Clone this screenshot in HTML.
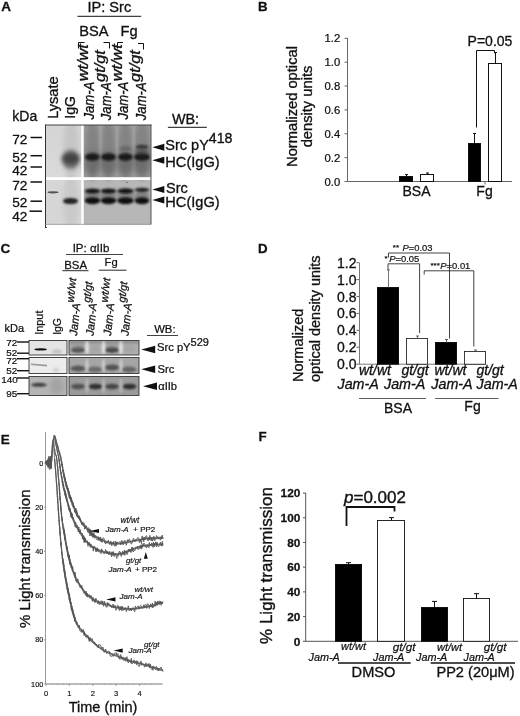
<!DOCTYPE html>
<html><head><meta charset="utf-8"><title>Figure</title>
<style>
html,body{margin:0;padding:0;background:#fff;}
svg{display:block;font-family:"Liberation Sans",sans-serif;fill:#111;}
text{stroke:#111;stroke-width:0.022em;}
.b{font-weight:bold}
.i{font-style:italic}
.ln{stroke:#111;fill:none}
</style></head><body>
<svg width="520" height="716" viewBox="0 0 520 716">
<defs>
<filter id="b1" x="-50%" y="-100%" width="200%" height="300%"><feGaussianBlur stdDeviation="1.1"/></filter>
<filter id="b2" x="-50%" y="-100%" width="200%" height="300%"><feGaussianBlur stdDeviation="2.2"/></filter>
<filter id="b3" x="-50%" y="-100%" width="200%" height="300%"><feGaussianBlur stdDeviation="0.7"/></filter>
<filter id="b4" x="-50%" y="-100%" width="200%" height="300%"><feGaussianBlur stdDeviation="3.5"/></filter>
<linearGradient id="gA1" x1="0" y1="0" x2="0" y2="1"><stop offset="0" stop-color="#d4d4d4"/><stop offset="1" stop-color="#dadada"/></linearGradient>
</defs>
<rect width="520" height="716" fill="#fff"/>

<g id="panelA">
<text x="1.2" y="11.3" font-size="13.5" text-anchor="start" class="b">A</text>
<text x="109.3" y="12.3" font-size="14.6" text-anchor="middle">IP: Src</text>
<line x1="77.5" y1="16.3" x2="141.2" y2="16.3" stroke="#111" stroke-width="1"/>
<text x="79.3" y="35.8" font-size="14.6" text-anchor="start">BSA</text>
<text x="120.5" y="35.8" font-size="14.6" text-anchor="start">Fg</text>
<path class="ln" d="M78.5,48.5 V42.5 H84.5 M103.5,42.5 H109.5 V48.5" stroke-width="1"/>
<path class="ln" d="M117.5,48.5 V42.5 H123 M138,43.5 H143.5 V49.5" stroke-width="1"/>
<text transform="translate(57.5,118.8) rotate(-90)" font-size="14.6" text-anchor="start">Lysate</text>
<text transform="translate(75.2,118.8) rotate(-90)" font-size="14.2" text-anchor="start">IgG</text>
<text transform="translate(94.2,119.6) rotate(-90) scale(0.905,1)" font-size="14.5" class="i">Jam-A</text>
<text transform="translate(87.7,81.3) rotate(-90) scale(1.15,1)" font-size="14.2" class="i">wt/wt</text>
<text transform="translate(111,120.2) rotate(-90) scale(0.905,1)" font-size="14.5" class="i">Jam-A</text>
<text transform="translate(104.5,81.9) rotate(-90) scale(1.15,1)" font-size="14.2" class="i">gt/gt</text>
<text transform="translate(128,119.6) rotate(-90) scale(0.905,1)" font-size="14.5" class="i">Jam-A</text>
<text transform="translate(121.5,81.3) rotate(-90) scale(1.15,1)" font-size="14.2" class="i">wt/wt</text>
<text transform="translate(146,120.2) rotate(-90) scale(0.905,1)" font-size="14.5" class="i">Jam-A</text>
<text transform="translate(139.5,81.9) rotate(-90) scale(1.15,1)" font-size="14.2" class="i">gt/gt</text>
<text x="12.3" y="121.3" font-size="14" text-anchor="start">kDa</text>
<text x="12.3" y="144.4" font-size="13.6" text-anchor="start">72</text>
<line x1="30.5" y1="137.5" x2="42" y2="137.5" stroke="#111" stroke-width="1.5"/>
<text x="12.3" y="161.9" font-size="13.6" text-anchor="start">52</text>
<line x1="30.5" y1="155.7" x2="42" y2="155.7" stroke="#111" stroke-width="1.5"/>
<text x="12.3" y="175.4" font-size="13.6" text-anchor="start">42</text>
<line x1="30.5" y1="167" x2="42" y2="167" stroke="#111" stroke-width="1.5"/>
<text x="12.3" y="189.9" font-size="13.6" text-anchor="start">72</text>
<line x1="30.5" y1="182" x2="42" y2="182" stroke="#111" stroke-width="1.5"/>
<text x="12.3" y="207.4" font-size="13.6" text-anchor="start">52</text>
<line x1="30.5" y1="201.2" x2="42" y2="201.2" stroke="#111" stroke-width="1.5"/>
<text x="12.3" y="221.1" font-size="13.6" text-anchor="start">42</text>
<line x1="29.5" y1="211.2" x2="42" y2="211.2" stroke="#111" stroke-width="1.5"/>
<clipPath id="clA"><rect x="45" y="125" width="106" height="99.5"/></clipPath>
<g clip-path="url(#clA)">
<rect x="45" y="125" width="106" height="100" fill="#a4a4a4"/>
<rect x="45" y="125" width="37" height="53" fill="url(#gA1)"/>
<rect x="45" y="180" width="37" height="45" fill="#d6d6d6"/>
<ellipse cx="71" cy="203" rx="8" ry="26" fill="#c6c6c6" filter="url(#b2)" opacity="0.8"/>
<rect x="83" y="125" width="68" height="53" fill="#9a9a9a"/>
<rect x="83" y="180" width="68" height="45" fill="#b7b7b7"/>
<ellipse cx="92.5" cy="150" rx="7" ry="30" fill="#7e7e7e" filter="url(#b2)" opacity="0.8"/>
<ellipse cx="108.5" cy="150" rx="7" ry="30" fill="#7e7e7e" filter="url(#b2)" opacity="0.8"/>
<ellipse cx="125.5" cy="150" rx="7" ry="30" fill="#7e7e7e" filter="url(#b2)" opacity="0.8"/>
<ellipse cx="142" cy="150" rx="7.5" ry="30" fill="#7e7e7e" filter="url(#b2)" opacity="0.8"/>
<ellipse cx="100.5" cy="150" rx="0.9" ry="30" fill="#b0b0b0" filter="url(#b1)" opacity="0.75"/>
<ellipse cx="117" cy="150" rx="0.9" ry="30" fill="#b0b0b0" filter="url(#b1)" opacity="0.75"/>
<ellipse cx="133.7" cy="150" rx="0.9" ry="30" fill="#b0b0b0" filter="url(#b1)" opacity="0.75"/>
<ellipse cx="71" cy="150" rx="8" ry="32" fill="#c2c2c2" filter="url(#b2)" opacity="0.8"/>
<ellipse cx="70.8" cy="159.5" rx="8.5" ry="9.5" fill="#585858" filter="url(#b2)" opacity="0.85"/>
<ellipse cx="70.8" cy="158.5" rx="8.5" ry="5" fill="#383838" filter="url(#b2)" opacity="0.8"/>
<ellipse cx="92.5" cy="163" rx="8.5" ry="12" fill="#5a5a5a" filter="url(#b4)" opacity="0.55"/>
<ellipse cx="92.5" cy="157" rx="7.5" ry="3.8" fill="#151515" filter="url(#b1)" opacity="0.95"/>
<ellipse cx="108.5" cy="163" rx="8.5" ry="12" fill="#5a5a5a" filter="url(#b4)" opacity="0.55"/>
<ellipse cx="108.5" cy="157" rx="7.5" ry="3.8" fill="#151515" filter="url(#b1)" opacity="0.95"/>
<ellipse cx="125.5" cy="163" rx="8.5" ry="12" fill="#5a5a5a" filter="url(#b4)" opacity="0.55"/>
<ellipse cx="125.5" cy="157" rx="7.5" ry="3.8" fill="#151515" filter="url(#b1)" opacity="0.95"/>
<ellipse cx="142" cy="163" rx="9" ry="12" fill="#5a5a5a" filter="url(#b4)" opacity="0.55"/>
<ellipse cx="142" cy="157" rx="8" ry="3.8" fill="#151515" filter="url(#b1)" opacity="0.95"/>
<ellipse cx="125.5" cy="148.5" rx="6" ry="2.5" fill="#555" filter="url(#b1)" opacity="0.55"/>
<ellipse cx="142" cy="146.8" rx="6.5" ry="2" fill="#2a2a2a" filter="url(#b1)" opacity="0.85"/>
<ellipse cx="142" cy="152" rx="7" ry="3" fill="#333" filter="url(#b2)" opacity="0.6"/>
<ellipse cx="53" cy="192.3" rx="5.5" ry="1.1" fill="#444" filter="url(#b3)" opacity="0.9"/>
<ellipse cx="70.5" cy="201" rx="7.5" ry="3.1" fill="#1a1a1a" filter="url(#b1)" opacity="0.95"/>
<ellipse cx="92.5" cy="196" rx="7.7" ry="7" fill="#444" filter="url(#b2)" opacity="0.5"/>
<ellipse cx="92.5" cy="191" rx="7.7" ry="2.3" fill="#0d0d0d" filter="url(#b1)" opacity="0.95"/>
<ellipse cx="92.5" cy="200.7" rx="7.7" ry="3.3" fill="#080808" filter="url(#b1)" opacity="1"/>
<ellipse cx="108.5" cy="196" rx="7.7" ry="7" fill="#444" filter="url(#b2)" opacity="0.5"/>
<ellipse cx="108.5" cy="191" rx="7.7" ry="2.3" fill="#0d0d0d" filter="url(#b1)" opacity="0.95"/>
<ellipse cx="108.5" cy="200.7" rx="7.7" ry="3.3" fill="#080808" filter="url(#b1)" opacity="1"/>
<ellipse cx="125.5" cy="196" rx="8.2" ry="7" fill="#444" filter="url(#b2)" opacity="0.5"/>
<ellipse cx="125.5" cy="191" rx="8.2" ry="2.4" fill="#0d0d0d" filter="url(#b1)" opacity="0.95"/>
<ellipse cx="125.5" cy="200.7" rx="8.2" ry="3.3" fill="#080808" filter="url(#b1)" opacity="1"/>
<ellipse cx="142" cy="196" rx="7.2" ry="7" fill="#444" filter="url(#b2)" opacity="0.5"/>
<ellipse cx="142" cy="189.8" rx="7.2" ry="1.8" fill="#0d0d0d" filter="url(#b1)" opacity="0.95"/>
<ellipse cx="142" cy="200.7" rx="7.2" ry="3.3" fill="#080808" filter="url(#b1)" opacity="1"/>
<circle cx="127" cy="182.5" r="0.6" fill="#333"/>
<rect x="81.3" y="125" width="2.4" height="100" fill="#fff"/>
<rect x="45" y="177.2" width="106" height="2.8" fill="#fff"/>
</g>
<line x1="45.5" y1="124.5" x2="45.5" y2="227.5" stroke="#333" stroke-width="1"/>
<line x1="45" y1="125" x2="151.5" y2="125" stroke="#444" stroke-width="1"/>
<line x1="151" y1="124.5" x2="151" y2="224.5" stroke="#555" stroke-width="1"/>
<line x1="45" y1="224.3" x2="151" y2="224.3" stroke="#888" stroke-width="0.6"/>
<line x1="45" y1="227.5" x2="47" y2="227.5" stroke="#333" stroke-width="0.8"/>
<text x="171.9" y="123.8" font-size="14.4" text-anchor="start">WB:</text>
<line x1="167.9" y1="127.3" x2="206.8" y2="127.3" stroke="#111" stroke-width="1"/>
<polygon points="152.3,147.2 164.3,143.7 164.3,150.7" fill="#111"/>
<text x="165.3" y="150.2" font-size="14.5">Src pY<tspan font-size="14.2" dy="-7">418</tspan></text>
<polygon points="152.3,160.2 164.3,156.7 164.3,163.7" fill="#111"/>
<text x="165.3" y="167.1" font-size="14.6" text-anchor="start">HC(IgG)</text>
<polygon points="152.3,189.6 164.3,186.1 164.3,193.1" fill="#111"/>
<text x="166" y="193.4" font-size="14.5" text-anchor="start">Src</text>
<polygon points="152.3,200 164.3,196.5 164.3,203.5" fill="#111"/>
<text x="165.3" y="206.9" font-size="14.6" text-anchor="start">HC(IgG)</text>
</g>
<g id="panelB">
<text x="258" y="11.2" font-size="13.3" text-anchor="start" class="b">B</text>
<text transform="translate(297,106.5) rotate(-90)" font-size="14.7" text-anchor="middle">Normalized optical</text>
<text transform="translate(312,106.5) rotate(-90)" font-size="14.7" text-anchor="middle">density units</text>
<line x1="347.5" y1="38" x2="347.5" y2="181.5" stroke="#666" stroke-width="1"/>
<line x1="347.5" y1="181.5" x2="512" y2="181.5" stroke="#666" stroke-width="1"/>
<line x1="344.5" y1="181.5" x2="347.5" y2="181.5" stroke="#666" stroke-width="1"/>
<text x="340.3" y="185.5" font-size="11.3" text-anchor="end">0.0</text>
<line x1="344.5" y1="157.64" x2="347.5" y2="157.64" stroke="#666" stroke-width="1"/>
<text x="340.3" y="161.64" font-size="11.3" text-anchor="end">0.2</text>
<line x1="344.5" y1="133.78" x2="347.5" y2="133.78" stroke="#666" stroke-width="1"/>
<text x="340.3" y="137.78" font-size="11.3" text-anchor="end">0.4</text>
<line x1="344.5" y1="109.91999999999999" x2="347.5" y2="109.91999999999999" stroke="#666" stroke-width="1"/>
<text x="340.3" y="113.91999999999999" font-size="11.3" text-anchor="end">0.6</text>
<line x1="344.5" y1="86.06" x2="347.5" y2="86.06" stroke="#666" stroke-width="1"/>
<text x="340.3" y="90.06" font-size="11.3" text-anchor="end">0.8</text>
<line x1="344.5" y1="62.2" x2="347.5" y2="62.2" stroke="#666" stroke-width="1"/>
<text x="340.3" y="66.2" font-size="11.3" text-anchor="end">1.0</text>
<line x1="344.5" y1="38.339999999999975" x2="347.5" y2="38.339999999999975" stroke="#666" stroke-width="1"/>
<text x="340.3" y="42.339999999999975" font-size="11.3" text-anchor="end">1.2</text>
<rect x="399.5" y="176.5" width="13.0" height="5.0" fill="#000" stroke="#111" stroke-width="1"/>
<line x1="406.5" y1="176.5" x2="406.5" y2="174.6" stroke="#111" stroke-width="1"/>
<line x1="405.0" y1="174.6" x2="408.0" y2="174.6" stroke="#111" stroke-width="1"/>
<rect x="420.5" y="174.5" width="13.0" height="7.0" fill="#fff" stroke="#111" stroke-width="1"/>
<line x1="427.5" y1="174.5" x2="427.5" y2="173" stroke="#111" stroke-width="1"/>
<line x1="426.0" y1="173" x2="429.0" y2="173" stroke="#111" stroke-width="1"/>
<rect x="468.5" y="143.5" width="12.0" height="38.0" fill="#000" stroke="#111" stroke-width="1"/>
<line x1="474.5" y1="143.5" x2="474.5" y2="133.5" stroke="#111" stroke-width="1"/>
<line x1="473.0" y1="133.5" x2="476.0" y2="133.5" stroke="#111" stroke-width="1"/>
<rect x="488.5" y="63.5" width="13.0" height="118.0" fill="#fff" stroke="#111" stroke-width="1"/>
<line x1="495.5" y1="63.5" x2="495.5" y2="52.5" stroke="#111" stroke-width="1"/>
<line x1="494.0" y1="52.5" x2="497.0" y2="52.5" stroke="#111" stroke-width="1"/>
<line x1="485" y1="181.5" x2="485" y2="184.5" stroke="#666" stroke-width="1"/>
<text x="416.5" y="196" font-size="14" text-anchor="middle">BSA</text>
<text x="484.5" y="196" font-size="14" text-anchor="middle">Fg</text>
<text x="490" y="46" font-size="14" text-anchor="middle">P=0.05</text>
<path class="ln" d="M476.5,127.5 V50.5 H494.5 V53.2" stroke-width="1"/>
</g>
<g id="panelC">
<text x="0.4" y="253.2" font-size="13.5" text-anchor="start" class="b">C</text>
<text x="91" y="251.5" font-size="11.5" text-anchor="middle">IP: αIIb</text>
<line x1="66" y1="254.5" x2="123" y2="254.5" stroke="#111" stroke-width="0.8"/>
<text x="64.2" y="269.3" font-size="11.4" text-anchor="start">BSA</text>
<text x="104.6" y="266.3" font-size="11.2" text-anchor="start">Fg</text>
<line x1="62.4" y1="270.7" x2="88.5" y2="270.7" stroke="#111" stroke-width="0.9"/>
<line x1="98.8" y1="270.2" x2="126.5" y2="270.2" stroke="#111" stroke-width="0.9"/>
<text transform="translate(42.5,334.8) rotate(-90)" font-size="10.9" text-anchor="start">Input</text>
<text transform="translate(60.8,334.8) rotate(-90)" font-size="10.4" text-anchor="start">IgG</text>
<text transform="translate(77,336) rotate(-84)" font-size="11.3" class="i">Jam-A<tspan font-size="10.8" dy="-6.8">wt/wt</tspan></text>
<text transform="translate(93.5,336) rotate(-84)" font-size="11.3" class="i">Jam-A<tspan font-size="10.8" dy="-6.8">gt/gt</tspan></text>
<text transform="translate(111,336) rotate(-84)" font-size="11.3" class="i">Jam-A<tspan font-size="10.8" dy="-6.8">wt/wt</tspan></text>
<text transform="translate(128.5,336) rotate(-84)" font-size="11.3" class="i">Jam-A<tspan font-size="10.8" dy="-6.8">gt/gt</tspan></text>
<text x="4.5" y="332" font-size="11" text-anchor="start">kDa</text>
<text x="6.2" y="345.6" font-size="9.9" text-anchor="start">72</text>
<line x1="17" y1="342" x2="29" y2="342" stroke="#111" stroke-width="1.4"/>
<text x="6.2" y="356.1" font-size="9.9" text-anchor="start">52</text>
<line x1="17" y1="353.2" x2="29" y2="353.2" stroke="#111" stroke-width="1.4"/>
<text x="6.2" y="363.6" font-size="9.9" text-anchor="start">72</text>
<line x1="17" y1="358.7" x2="29" y2="358.7" stroke="#111" stroke-width="1.4"/>
<text x="6.2" y="374.3" font-size="9.9" text-anchor="start">52</text>
<line x1="17" y1="370.7" x2="29" y2="370.7" stroke="#111" stroke-width="1.4"/>
<text x="1.2" y="382.8" font-size="9.9" text-anchor="start">140</text>
<line x1="17" y1="378" x2="29" y2="378" stroke="#111" stroke-width="1.4"/>
<text x="6.2" y="397.3" font-size="9.9" text-anchor="start">95</text>
<line x1="17" y1="393.7" x2="29" y2="393.7" stroke="#111" stroke-width="1.4"/>
<clipPath id="clC"><rect x="29" y="340.5" width="38" height="14.500"/><rect x="69" y="340.5" width="70" height="14.500"/><rect x="29" y="357.5" width="38" height="16"/><rect x="69" y="357.5" width="70" height="16"/><rect x="29" y="376.5" width="38" height="19"/><rect x="69" y="376.5" width="70" height="19"/></clipPath>
<g clip-path="url(#clC)">
<rect x="29" y="340.5" width="38" height="14.5" fill="#e4e4e4"/>
<rect x="69" y="340.5" width="70" height="14.5" fill="#b0b0b0"/>
<rect x="29" y="357.5" width="38" height="16.0" fill="#ececec"/>
<rect x="69" y="357.5" width="70" height="16.0" fill="#a6a6a6"/>
<rect x="29" y="376.5" width="38" height="19.0" fill="#b4b4b4"/>
<rect x="69" y="376.5" width="70" height="19.0" fill="#9a9a9a"/>
<rect x="69" y="340.5" width="70" height="3" fill="#808080" filter="url(#b1)" opacity="0.7"/>
<ellipse cx="40.6" cy="349.4" rx="6.3" ry="1.2" fill="#111" filter="url(#b3)" opacity="1"/>
<ellipse cx="57" cy="351.5" rx="5" ry="2" fill="#aaa" filter="url(#b1)" opacity="0.6"/>
<ellipse cx="78" cy="350" rx="7" ry="2.8" fill="#383838" filter="url(#b1)" opacity="0.8"/>
<ellipse cx="78" cy="347" rx="7" ry="3" fill="#777" filter="url(#b2)" opacity="0.5"/>
<ellipse cx="112" cy="350" rx="7" ry="2.8" fill="#383838" filter="url(#b1)" opacity="0.95"/>
<ellipse cx="112" cy="347" rx="7" ry="3" fill="#777" filter="url(#b2)" opacity="0.5"/>
<ellipse cx="95" cy="349" rx="6" ry="4" fill="#999" filter="url(#b2)" opacity="0.5"/>
<ellipse cx="129" cy="349" rx="6" ry="4" fill="#999" filter="url(#b2)" opacity="0.5"/>
<ellipse cx="87" cy="347.5" rx="1.8" ry="7" fill="#ececec" filter="url(#b1)" opacity="0.85"/>
<ellipse cx="103.5" cy="347.5" rx="1.8" ry="7" fill="#ececec" filter="url(#b1)" opacity="0.85"/>
<ellipse cx="121" cy="347.5" rx="1.8" ry="7" fill="#ececec" filter="url(#b1)" opacity="0.85"/>
<path d="M31,364.2 L47,365.6" stroke="#9a9a9a" stroke-width="1.6" filter="url(#b3)"/>
<ellipse cx="56" cy="370" rx="3" ry="2" fill="#bbb" filter="url(#b1)" opacity="0.6"/>
<ellipse cx="78" cy="368.5" rx="7.5" ry="3" fill="#444" filter="url(#b1)" opacity="0.8"/>
<ellipse cx="95" cy="369.5" rx="7.5" ry="3" fill="#444" filter="url(#b1)" opacity="0.6"/>
<ellipse cx="112" cy="367.5" rx="7.5" ry="3" fill="#444" filter="url(#b1)" opacity="0.85"/>
<ellipse cx="129" cy="369.5" rx="7.5" ry="3" fill="#444" filter="url(#b1)" opacity="0.65"/>
<ellipse cx="87" cy="365.5" rx="1.5" ry="7" fill="#e0e0e0" filter="url(#b1)" opacity="0.7"/>
<ellipse cx="103.5" cy="365.5" rx="1.5" ry="7" fill="#e0e0e0" filter="url(#b1)" opacity="0.7"/>
<ellipse cx="121" cy="365.5" rx="1.5" ry="7" fill="#e0e0e0" filter="url(#b1)" opacity="0.7"/>
<ellipse cx="39" cy="384.8" rx="8" ry="2" fill="#333" filter="url(#b1)" opacity="0.9"/>
<ellipse cx="57" cy="386" rx="7" ry="8" fill="#999" filter="url(#b2)" opacity="0.6"/>
<ellipse cx="78" cy="386.6" rx="7" ry="2.8" fill="#2c2c2c" filter="url(#b1)" opacity="0.65"/>
<ellipse cx="95.5" cy="386.6" rx="7" ry="2.8" fill="#2c2c2c" filter="url(#b1)" opacity="0.95"/>
<ellipse cx="112" cy="386.6" rx="7" ry="2.8" fill="#2c2c2c" filter="url(#b1)" opacity="0.75"/>
<ellipse cx="129.5" cy="386.6" rx="7" ry="2.8" fill="#2c2c2c" filter="url(#b1)" opacity="0.95"/>
<ellipse cx="87" cy="386" rx="1.4" ry="8" fill="#d0d0d0" filter="url(#b1)" opacity="0.6"/>
<ellipse cx="103.5" cy="386" rx="1.4" ry="8" fill="#d0d0d0" filter="url(#b1)" opacity="0.6"/>
<ellipse cx="121" cy="386" rx="1.4" ry="8" fill="#d0d0d0" filter="url(#b1)" opacity="0.6"/>
</g>
<rect x="29" y="340.5" width="38" height="14.5" fill="none" stroke="#333" stroke-width="0.9"/>
<rect x="69" y="340.5" width="70" height="14.5" fill="none" stroke="#333" stroke-width="0.9"/>
<rect x="29" y="357.5" width="38" height="16.0" fill="none" stroke="#333" stroke-width="0.9"/>
<rect x="69" y="357.5" width="70" height="16.0" fill="none" stroke="#333" stroke-width="0.9"/>
<rect x="29" y="376.5" width="38" height="19.0" fill="none" stroke="#333" stroke-width="0.9"/>
<rect x="69" y="376.5" width="70" height="19.0" fill="none" stroke="#333" stroke-width="0.9"/>
<text x="154.2" y="332.5" font-size="11.3" text-anchor="start">WB:</text>
<line x1="147" y1="335.5" x2="178" y2="335.5" stroke="#111" stroke-width="0.8"/>
<polygon points="141.2,349.5 155.2,345.75 155.2,353.25" fill="#111"/>
<text x="157" y="351.2" font-size="11.2">Src pY<tspan font-size="11" dy="-5.7">529</tspan></text>
<polygon points="141.2,369.2 155.2,365.45 155.2,372.95" fill="#111"/>
<text x="157.5" y="373.2" font-size="11.2" text-anchor="start">Src</text>
<polygon points="143,386.2 157,382.45 157,389.95" fill="#111"/>
<text x="158.2" y="390" font-size="11.2" text-anchor="start">αIIb</text>
</g>
<g id="panelD">
<text x="258" y="252.9" font-size="13.3" text-anchor="start" class="b">D</text>
<text transform="translate(303,382) rotate(-90)" font-size="14.5" text-anchor="start">Normalized</text>
<text transform="translate(320,382) rotate(-90)" font-size="14.5" text-anchor="start">optical density units</text>
<line x1="359.5" y1="262.5" x2="359.5" y2="364.2" stroke="#777" stroke-width="1"/>
<line x1="359" y1="364.2" x2="486" y2="364.2" stroke="#777" stroke-width="1"/>
<line x1="356.5" y1="364.2" x2="359" y2="364.2" stroke="#666" stroke-width="1"/>
<text x="356.5" y="369.2" font-size="14" text-anchor="end">0.0</text>
<line x1="356.5" y1="347.28" x2="359" y2="347.28" stroke="#666" stroke-width="1"/>
<text x="356.5" y="352.28" font-size="14" text-anchor="end">0.2</text>
<line x1="356.5" y1="330.36" x2="359" y2="330.36" stroke="#666" stroke-width="1"/>
<text x="356.5" y="335.36" font-size="14" text-anchor="end">0.4</text>
<line x1="356.5" y1="313.44" x2="359" y2="313.44" stroke="#666" stroke-width="1"/>
<text x="356.5" y="318.44" font-size="14" text-anchor="end">0.6</text>
<line x1="356.5" y1="296.52" x2="359" y2="296.52" stroke="#666" stroke-width="1"/>
<text x="356.5" y="301.52" font-size="14" text-anchor="end">0.8</text>
<line x1="356.5" y1="279.6" x2="359" y2="279.6" stroke="#666" stroke-width="1"/>
<text x="356.5" y="284.6" font-size="14" text-anchor="end">1.0</text>
<line x1="356.5" y1="262.67999999999995" x2="359" y2="262.67999999999995" stroke="#666" stroke-width="1"/>
<text x="356.5" y="267.67999999999995" font-size="14" text-anchor="end">1.2</text>
<rect x="377.5" y="287.5" width="21.0" height="76.69999999999999" fill="#000" stroke="#111" stroke-width="1"/>
<line x1="388.5" y1="287.5" x2="388.5" y2="270" stroke="#666" stroke-width="0.9"/>
<line x1="387.0" y1="270" x2="390.0" y2="270" stroke="#666" stroke-width="0.9"/>
<rect x="406.5" y="338.5" width="21.0" height="25.69999999999999" fill="#fff" stroke="#111" stroke-width="0.8"/>
<line x1="417.5" y1="338.5" x2="417.5" y2="336" stroke="#555" stroke-width="0.9"/>
<line x1="416.0" y1="336" x2="419.0" y2="336" stroke="#555" stroke-width="0.9"/>
<rect x="435.5" y="342.5" width="21.0" height="21.69999999999999" fill="#000" stroke="#111" stroke-width="1"/>
<line x1="446.5" y1="342.5" x2="446.5" y2="339.5" stroke="#555" stroke-width="0.9"/>
<line x1="445.0" y1="339.5" x2="448.0" y2="339.5" stroke="#555" stroke-width="0.9"/>
<rect x="464.5" y="351.5" width="21.0" height="12.699999999999989" fill="#fff" stroke="#111" stroke-width="0.8"/>
<line x1="475.5" y1="351.5" x2="475.5" y2="350" stroke="#555" stroke-width="0.9"/>
<line x1="474.0" y1="350" x2="477.0" y2="350" stroke="#555" stroke-width="0.9"/>
<text x="392.8" y="250.7" font-size="9.4"><tspan font-size="8" dy="-0.5">**</tspan><tspan dy="0.5" dx="3.5" class="i">P</tspan>=0.03</text>
<path class="ln" d="M388.5,257.5 V253 H449.5 V338.5" stroke-width="0.8" stroke="#333"/>
<text x="384.6" y="261.5" font-size="9.4"><tspan font-size="8" dy="-0.5">*</tspan><tspan dy="0.5" dx="1.5" class="i">P</tspan>=0.05</text>
<path class="ln" d="M388,270 V263.8 H419.6 V333" stroke-width="0.8" stroke="#333"/>
<text x="430.5" y="268.5" font-size="9.4"><tspan font-size="8" dy="-0.5">***</tspan><tspan dy="0.5" dx="0.5" class="i">P</tspan>=0.01</text>
<path class="ln" d="M424.2,274.5 V270.8 H473.8 V346.5" stroke-width="0.8" stroke="#333"/>
<text x="359" y="375" font-size="14" text-anchor="start" class="i">wt/wt</text>
<text x="401.5" y="375" font-size="14" text-anchor="start" class="i">gt/gt</text>
<text x="434.5" y="375" font-size="14" text-anchor="start" class="i">wt/wt</text>
<text x="476.5" y="375" font-size="14" text-anchor="start" class="i">gt/gt</text>
<text x="337.5" y="389" font-size="14.3" text-anchor="start" class="i">Jam-A</text>
<text x="384" y="389" font-size="14.3" text-anchor="start" class="i">Jam-A</text>
<text x="431.3" y="389" font-size="14.3" text-anchor="start" class="i">Jam-A</text>
<text x="476.6" y="389" font-size="14.3" text-anchor="start" class="i">Jam-A</text>
<line x1="359" y1="398.5" x2="426" y2="398.5" stroke="#333" stroke-width="0.8"/>
<line x1="435" y1="398.5" x2="498.5" y2="398.5" stroke="#333" stroke-width="0.8"/>
<text x="398" y="413" font-size="14" text-anchor="middle">BSA</text>
<text x="472.5" y="410.5" font-size="14" text-anchor="middle">Fg</text>
</g>
<g id="panelE">
<text x="0.8" y="443.6" font-size="13.5" text-anchor="start" class="b">E</text>
<text transform="translate(30.3,558.7) rotate(-90)" font-size="15" text-anchor="middle">% Light transmission</text>
<line x1="45.5" y1="432" x2="45.5" y2="684" stroke="#999" stroke-width="1"/>
<line x1="46" y1="684" x2="162.5" y2="684" stroke="#666" stroke-width="0.9"/>
<line x1="44" y1="463.0" x2="46" y2="463.0" stroke="#888" stroke-width="0.7"/>
<text x="43.3" y="465.6" font-size="7.3" text-anchor="end">0</text>
<line x1="44" y1="507.2" x2="46" y2="507.2" stroke="#888" stroke-width="0.7"/>
<text x="43.3" y="509.8" font-size="7.3" text-anchor="end">20</text>
<line x1="44" y1="551.4" x2="46" y2="551.4" stroke="#888" stroke-width="0.7"/>
<text x="43.3" y="554.0" font-size="7.3" text-anchor="end">40</text>
<line x1="44" y1="595.6" x2="46" y2="595.6" stroke="#888" stroke-width="0.7"/>
<text x="43.3" y="598.2" font-size="7.3" text-anchor="end">60</text>
<line x1="44" y1="639.8" x2="46" y2="639.8" stroke="#888" stroke-width="0.7"/>
<text x="43.3" y="642.4" font-size="7.3" text-anchor="end">80</text>
<line x1="44" y1="684.0" x2="46" y2="684.0" stroke="#888" stroke-width="0.7"/>
<text x="43.3" y="686.6" font-size="7.3" text-anchor="end">100</text>
<line x1="46.0" y1="684" x2="46.0" y2="686" stroke="#888" stroke-width="0.7"/>
<text x="46.0" y="695.5" font-size="7.5" text-anchor="middle">0</text>
<line x1="69.4" y1="684" x2="69.4" y2="686" stroke="#888" stroke-width="0.7"/>
<text x="69.4" y="695.5" font-size="7.5" text-anchor="middle">1</text>
<line x1="92.8" y1="684" x2="92.8" y2="686" stroke="#888" stroke-width="0.7"/>
<text x="92.8" y="695.5" font-size="7.5" text-anchor="middle">2</text>
<line x1="116.19999999999999" y1="684" x2="116.19999999999999" y2="686" stroke="#888" stroke-width="0.7"/>
<text x="116.19999999999999" y="695.5" font-size="7.5" text-anchor="middle">3</text>
<line x1="139.6" y1="684" x2="139.6" y2="686" stroke="#888" stroke-width="0.7"/>
<text x="139.6" y="695.5" font-size="7.5" text-anchor="middle">4</text>
<line x1="46.0" y1="684" x2="46.0" y2="685.2" stroke="#999" stroke-width="0.5"/>
<line x1="51.85" y1="684" x2="51.85" y2="685.2" stroke="#999" stroke-width="0.5"/>
<line x1="57.7" y1="684" x2="57.7" y2="685.2" stroke="#999" stroke-width="0.5"/>
<line x1="63.55" y1="684" x2="63.55" y2="685.2" stroke="#999" stroke-width="0.5"/>
<line x1="69.4" y1="684" x2="69.4" y2="685.2" stroke="#999" stroke-width="0.5"/>
<line x1="75.25" y1="684" x2="75.25" y2="685.2" stroke="#999" stroke-width="0.5"/>
<line x1="81.1" y1="684" x2="81.1" y2="685.2" stroke="#999" stroke-width="0.5"/>
<line x1="86.94999999999999" y1="684" x2="86.94999999999999" y2="685.2" stroke="#999" stroke-width="0.5"/>
<line x1="92.8" y1="684" x2="92.8" y2="685.2" stroke="#999" stroke-width="0.5"/>
<line x1="98.65" y1="684" x2="98.65" y2="685.2" stroke="#999" stroke-width="0.5"/>
<line x1="104.5" y1="684" x2="104.5" y2="685.2" stroke="#999" stroke-width="0.5"/>
<line x1="110.35" y1="684" x2="110.35" y2="685.2" stroke="#999" stroke-width="0.5"/>
<line x1="116.19999999999999" y1="684" x2="116.19999999999999" y2="685.2" stroke="#999" stroke-width="0.5"/>
<line x1="122.05" y1="684" x2="122.05" y2="685.2" stroke="#999" stroke-width="0.5"/>
<line x1="127.89999999999999" y1="684" x2="127.89999999999999" y2="685.2" stroke="#999" stroke-width="0.5"/>
<line x1="133.75" y1="684" x2="133.75" y2="685.2" stroke="#999" stroke-width="0.5"/>
<line x1="139.6" y1="684" x2="139.6" y2="685.2" stroke="#999" stroke-width="0.5"/>
<line x1="145.45" y1="684" x2="145.45" y2="685.2" stroke="#999" stroke-width="0.5"/>
<line x1="151.3" y1="684" x2="151.3" y2="685.2" stroke="#999" stroke-width="0.5"/>
<line x1="157.14999999999998" y1="684" x2="157.14999999999998" y2="685.2" stroke="#999" stroke-width="0.5"/>
<text x="103.1" y="711.5" font-size="14.5" text-anchor="middle">Time (min)</text>
<path d="M45.8,461.4 L45.9,463.8 L46.1,460.7 L46.2,463.9 L46.4,460.6 L46.5,464.7 L46.7,461.2 L46.8,465.2 L47.0,461.1 L47.1,465.4 L47.3,460.8 L47.4,464.7 L47.6,459.6 L47.8,467.1 L47.9,460.3 L48.0,465.5 L48.2,458.4 L48.3,468.3 L48.5,458.3 L48.6,466.6 L48.8,456.4 L48.9,465.5 L49.1,456.5 L49.2,466.7 L49.4,459.2 L49.5,466.2 L49.7,458.2 L49.8,469.7 L50.0,458.6 L50.1,468.9 L50.3,456.0 L50.4,468.0 L50.6,456.5 L50.8,466.4 L50.9,459.0 L51.0,467.2 L51.2,455.8 L51.3,468.3 L51.5,457.7 L51.6,469.1" fill="none" stroke="#555" stroke-width="0.7"/>
<path d="M54.6,458.7 L54.7,460.1 L54.8,461.5 L55.0,463.0 L55.1,464.5 L55.2,466.1 L55.3,467.7 L55.5,469.4 L55.6,471.0 L55.7,472.8 L55.9,474.5 L56.0,476.3 L56.2,478.2 L56.3,480.0 L56.4,481.9 L56.6,483.9 L56.7,485.9 L56.9,488.0 L57.0,490.1 L57.2,492.3 L57.3,494.5 L57.5,496.7 L57.5,497.8 L57.6,498.9 L57.7,500.1 L57.8,501.2 L57.8,502.3 L57.9,503.5 L58.0,504.6 L58.1,505.7 L58.1,506.9 L58.2,508.0 L58.4,510.2 L58.5,512.4 L58.7,514.6 L58.9,516.8 L59.0,519.0 L59.2,521.2 L59.3,523.4 L59.5,525.6 L59.7,527.9 L59.8,530.1 L60.0,532.3 L60.2,534.5 L60.4,536.7 L60.5,538.9 L60.7,541.0 L60.9,543.1 L61.1,545.2 L61.3,547.2 L61.5,549.2 L61.7,551.1 L61.9,553.1 L62.2,555.0 L62.4,556.9 L62.6,558.8 L62.9,560.6 L63.1,562.4" fill="none" stroke="#666" stroke-width="1.2" stroke-linejoin="round"/>
<path d="M63.1,562.4 L63.4,564.2 L63.7,566.0 L63.9,567.7 L64.2,569.4 L64.4,571.0 L64.7,572.7 L64.9,574.2 L65.2,575.7 L65.4,577.2 L65.6,578.6 L65.9,580.0 L66.1,581.2 L66.3,582.5 L66.5,583.7 L66.8,584.8 L67.0,585.9 L67.2,587.0 L67.4,588.1 L67.7,589.1 L67.9,590.2 L68.1,591.2 L68.3,592.2 L68.5,593.3 L68.8,594.3 L69.0,595.4 L69.2,596.5 L69.5,597.6 L69.7,598.6 L69.9,599.7 L70.1,600.8 L70.3,601.8 L70.6,602.9 L70.8,603.9 L71.0,604.9 L71.2,605.9 L71.5,606.9 L71.7,607.9 L72.0,608.9 L72.2,609.8 L72.4,610.8 L72.7,611.7 L73.0,612.6 L73.2,613.5 L73.5,614.4 L73.7,615.2 L74.0,616.1 L74.2,616.9 L74.5,617.7 L74.7,618.5 L75.0,619.3 L75.3,620.1 L75.6,620.8 L75.9,621.6 L76.2,622.3 L76.5,623.0 L76.8,623.7 L77.2,624.4 L77.6,625.1 L78.0,625.7 L78.4,626.3 L78.8,626.9 L79.2,627.5 L79.7,628.1 L80.1,628.6 L80.6,629.2 L81.0,629.7 L81.5,630.2 L82.0,630.8 L82.5,631.3 L83.0,631.8 L83.5,632.4 L84.0,632.9 L84.5,633.5 L85.0,634.1 L85.5,634.6 L86.1,635.2 L86.6,635.8 L87.1,636.4 L87.7,637.0 L88.2,637.5 L88.8,638.1 L89.3,638.7 L89.9,639.3 L90.5,639.8 L91.1,640.4 L91.7,641.0 L92.3,641.5 L92.9,642.1 L93.5,642.6 L94.1,643.1 L94.8,643.7 L95.4,644.2 L96.1,644.8 L96.8,645.3 L97.4,645.9 L98.1,646.4 L98.8,646.9 L99.5,647.5 L100.2,648.0 L100.9,648.5 L101.6,648.9 L102.3,649.4 L103.0,649.9 L103.7,650.3 L104.4,650.7 L105.1,651.1 L105.7,651.4 L106.4,651.8 L107.0,652.1 L107.7,652.4 L108.3,652.6 L109.0,652.9 L109.6,653.2 L110.3,653.4 L110.9,653.7 L111.6,653.9 L112.3,654.2 L113.0,654.4 L113.8,654.7 L114.5,655.0 L115.3,655.3 L116.1,655.6 L116.9,655.9 L117.8,656.3 L118.6,656.6 L119.5,656.9 L120.4,657.3 L121.3,657.6 L122.2,658.0 L123.1,658.3 L124.1,658.7 L125.0,659.0 L126.0,659.4 L127.0,659.7 L127.9,660.0 L128.9,660.4 L129.9,660.7 L130.9,661.0 L131.9,661.3 L133.0,661.6 L134.0,661.9 L135.1,662.2 L136.2,662.5 L137.3,662.8 L138.4,663.1 L139.5,663.4 L140.6,663.7 L141.7,664.0 L142.7,664.3 L143.8,664.6 L144.9,664.9 L146.0,665.2 L147.0,665.5 L148.1,665.8 L149.2,666.1 L150.3,666.5 L151.5,666.9 L152.6,667.2 L153.8,667.6 L154.9,667.9 L156.1,668.3 L157.2,668.6 L158.2,669.0 L159.2,669.3 L160.2,669.6 L161.0,669.9 L161.8,670.1 L162.4,670.3 L163.0,670.5" fill="none" stroke="#707070" stroke-width="1.9" stroke-linejoin="round"/>
<path d="M51.5,463.0 L51.5,462.5 L51.5,462.0 L51.5,461.3 L51.6,460.5 L51.6,459.7 L51.6,458.9 L51.6,457.9 L51.6,457.5 L51.7,457.0 L51.7,456.5 L51.7,456.0 L51.7,455.6 L51.7,455.1 L51.7,454.6 L51.7,454.1 L51.8,453.2 L51.8,452.3 L51.8,451.5 L51.9,450.7 L51.9,450.0 L51.9,449.3 L52.0,448.7 L52.0,448.1 L52.1,447.4 L52.1,446.8 L52.1,446.2 L52.2,445.7 L52.2,445.1 L52.3,444.6 L52.3,444.1 L52.4,443.7 L52.4,443.2 L52.5,442.9 L52.5,442.5 L52.6,442.2 L52.6,442.0 L52.6,441.8 L52.7,441.6 L52.7,441.5 L52.8,441.4 L52.8,441.3 L52.8,441.2 L52.9,441.2 L52.9,441.2 L53.0,441.3 L53.0,441.4 L53.1,441.6 L53.1,441.8 L53.2,442.0 L53.2,442.3 L53.2,442.6 L53.3,443.0 L53.4,443.4 L53.4,443.9 L53.5,444.4 L53.5,444.9 L53.6,445.5 L53.6,446.1 L53.7,446.8 L53.7,447.5 L53.8,448.3 L53.8,449.1 L53.9,449.9 L54.0,450.8 L54.0,451.3 L54.0,451.8 L54.1,452.3 L54.1,452.8 L54.2,453.3 L54.2,453.9 L54.3,454.4 L54.3,455.0 L54.3,455.6 L54.4,456.2 L54.4,456.8 L54.5,457.4 L54.6,458.1 L54.6,458.7 L54.7,459.4 L54.7,460.1 L54.8,460.8 L54.8,461.5 L54.9,462.3 L55.0,463.0 L55.0,463.8 L55.1,464.5 L55.1,465.0 L55.2,465.6 L55.2,466.1 L55.3,466.6 L55.3,467.2 L55.3,467.7 L55.4,468.2 L55.4,468.8 L55.5,469.4 L55.5,469.9 L55.6,470.5 L55.6,471.0 L55.7,471.6 L55.7,472.2 L55.7,472.8 L55.8,473.4 L55.8,473.9 L55.9,474.5 L55.9,475.1 L56.0,475.7 L56.0,476.3 L56.1,476.9 L56.1,477.5 L56.2,478.2 L56.2,478.8 L56.3,479.4 L56.3,480.0 L56.3,480.6 L56.4,481.3 L56.4,481.9 L56.5,482.6 L56.5,483.2 L56.6,483.9 L56.6,484.5 L56.7,485.2 L56.7,485.9 L56.8,486.6 L56.8,487.3 L56.9,488.0 L56.9,488.7 L57.0,489.4 L57.1,489.6 L57.1,491.1 L57.2,491.4 L57.3,492.3 L57.3,492.1 L57.2,493.2 L57.1,493.4 L57.1,493.7 L57.1,494.5 L57.3,494.8 L57.5,495.0 L57.3,496.8 L57.4,496.1 L57.7,496.7 L57.4,498.3 L57.6,499.0 L57.7,498.0 L57.8,499.4 L57.5,500.3 L57.9,501.2 L57.8,501.1 L57.6,502.4 L57.7,502.4 L57.7,502.1 L58.0,503.2 L57.8,503.7 L57.9,504.2 L58.0,504.4 L58.2,505.2 L58.1,505.6 L58.1,506.8 L58.4,507.4 L58.3,507.7 L58.2,508.8 L58.1,508.3 L58.2,510.1 L58.5,509.5 L58.3,511.1 L58.3,510.9 L58.7,511.8 L58.4,513.3 L58.5,513.8 L58.6,512.6 L58.7,514.1 L58.5,513.6 L58.5,514.9 L58.8,515.3 L58.9,516.3 L58.8,517.2 L58.8,517.0 L58.8,518.3 L59.0,519.1 L58.9,519.5 L59.2,519.6 L59.1,520.7 L59.2,521.5 L59.0,520.3 L59.4,521.4 L59.3,522.4 L59.1,523.2 L59.3,524.1 L59.2,524.0 L59.3,525.0 L59.4,524.5 L59.5,526.2 L59.6,525.9 L59.6,527.4 L59.5,526.3 L59.7,528.4 L59.6,527.3 L59.8,529.4 L59.8,529.0 L60.0,530.0 L60.1,529.9 L60.1,530.0 L59.9,532.9 L59.9,531.6 L60.1,533.1 L60.2,534.6 L60.2,534.0 L60.2,533.8 L60.2,533.2 L60.1,535.5 L60.4,535.8 L60.5,535.4 L60.5,536.2 L60.4,538.9 L60.5,538.0 L60.4,538.5 L60.7,538.4 L60.6,539.7 L60.6,540.4 L60.9,541.4 L61.0,543.3 L61.0,544.4 L60.9,542.5 L60.9,545.2 L60.9,543.9 L61.1,545.8 L61.1,547.3 L61.3,547.7 L61.2,547.6 L61.4,547.6 L61.7,548.3 L61.4,549.7 L61.5,549.2 L61.7,550.3 L61.8,553.1 L61.8,552.2 L61.8,552.5 L62.0,555.3 L62.0,554.8 L62.1,554.2 L62.4,555.4 L62.1,558.2 L62.4,557.6 L62.4,558.0 L62.7,559.7 L62.5,560.5 L62.8,558.1 L62.9,561.6 L62.9,561.6 L62.9,559.5 L63.0,563.4 L63.2,561.0 L63.1,563.8 L63.3,563.7 L63.2,563.1 L63.7,564.0 L63.6,566.0 L63.8,564.9 L63.5,567.4 L63.8,567.1 L64.1,566.7 L63.9,566.5 L64.0,568.5 L64.2,570.7 L64.2,568.7 L64.2,571.9 L64.6,572.2 L64.4,571.6 L64.8,571.7 L64.6,571.1 L64.6,575.3 L65.0,571.7 L65.1,576.0 L64.9,577.0 L65.0,577.8 L65.2,577.2 L65.2,576.4 L65.7,576.8 L65.5,576.8 L65.9,578.6 L65.9,579.5 L65.9,580.0 L65.9,580.6 L66.3,581.4 L66.1,578.9 L66.5,585.3 L66.5,585.8 L66.6,586.7 L66.7,586.0 L67.0,582.7 L66.8,586.7 L67.3,585.0 L67.1,589.6 L67.5,587.2 L67.5,586.3 L67.6,590.5 L67.6,588.2 L67.6,591.3 L67.7,591.7 L67.9,587.9 L68.3,594.1 L68.1,590.3 L68.3,592.2 L68.5,591.2 L68.7,594.3 L68.8,594.8 L68.7,593.1 L68.8,596.3 L69.2,593.9 L69.1,596.4 L69.1,599.4 L69.5,598.9 L69.6,595.2 L69.4,600.1 L69.6,597.4 L70.0,602.0 L69.9,598.9 L70.2,598.8 L70.2,598.4 L70.1,599.6 L70.4,600.0 L70.3,603.2 L70.4,601.8 L70.8,602.2 L70.6,604.2 L71.0,603.8 L71.1,602.5 L71.1,604.9 L71.3,608.7 L71.5,605.6 L71.4,609.9 L71.4,608.8 L71.8,610.3 L71.8,607.8 L72.0,605.9 L71.9,610.2 L72.2,610.6 L72.3,608.2 L72.4,613.3 L72.5,613.1 L72.9,609.5 L73.0,612.0 L73.0,611.9 L73.3,615.4 L73.6,612.7 L73.6,617.2 L73.9,615.5 L74.3,614.6 L74.5,621.3 L74.9,620.8 L75.0,617.0 L75.2,620.8 L75.6,621.3 L75.7,621.2 L76.1,623.0 L76.5,624.6 L76.7,621.8 L77.0,622.2 L77.4,624.7 L78.1,626.5 L78.2,628.0 L79.0,627.0 L79.4,625.3 L79.5,629.5 L80.3,631.5 L80.7,631.7 L81.0,632.3 L81.7,631.8 L81.9,629.4 L82.4,631.3 L82.9,630.4 L83.4,629.6 L84.2,635.6 L84.3,631.5 L85.0,634.3 L85.6,636.9 L86.3,637.5 L86.7,636.6 L87.2,635.0 L87.6,636.1 L88.0,635.6 L88.8,640.0 L89.4,641.6 L89.7,637.6 L90.5,637.7 L90.9,640.5 L91.5,639.3 L92.1,638.5 L92.9,641.2 L93.5,643.1 L94.3,643.0 L94.6,642.1 L95.5,645.1 L95.9,644.2 L96.7,646.2 L97.6,646.7 L98.3,647.8 L98.8,644.2 L99.6,645.1 L100.4,645.0 L101.0,646.3 L101.8,649.0 L102.2,647.5 L103.1,647.2 L103.9,652.2 L104.5,652.2 L104.9,650.8 L105.7,649.0 L106.5,653.3 L107.1,653.3 L107.7,652.0 L108.5,651.2 L108.8,651.2 L109.7,651.7 L110.2,656.1 L110.8,656.0 L111.7,656.4 L112.3,655.2 L113.2,656.5 L113.8,654.3 L114.6,653.8 L115.2,652.8 L116.3,652.8 L116.7,655.0 L117.8,653.5 L118.5,657.8 L119.2,657.3 L119.3,658.9 L120.1,659.3 L120.2,654.9 L121.0,654.7 L121.3,658.4 L121.6,656.5 L122.1,659.5 L122.6,657.5 L123.1,657.0 L123.6,657.4 L123.9,660.8 L124.7,658.3 L125.0,658.1 L125.3,657.5 L125.8,661.3 L126.7,657.8 L127.0,656.7 L127.4,661.7 L127.8,659.1 L128.3,662.9 L128.8,661.6 L129.5,661.4 L130.0,661.9 L130.4,660.0 L131.1,663.4 L131.3,658.3 L131.9,663.7 L132.4,663.8 L133.1,661.8 L133.4,662.7 L134.1,659.9 L134.5,663.5 L134.9,663.9 L135.5,662.2 L136.3,660.7 L136.6,664.7 L137.3,661.3 L137.7,660.9 L138.2,666.0 L138.9,666.0 L139.6,666.3 L140.1,663.2 L140.5,661.4 L141.2,661.1 L141.7,665.2 L142.2,663.9 L142.9,663.7 L143.4,664.0 L143.9,664.1 L144.4,667.0 L145.0,667.0 L145.5,664.8 L146.1,662.8 L146.4,666.6 L147.0,665.0 L147.7,665.1 L148.2,663.9 L148.8,665.3 L149.0,663.4 L149.7,668.0 L150.3,664.1 L150.9,668.0 L151.4,668.8 L152.1,669.7 L152.5,666.6 L153.0,670.3 L153.6,666.2 L154.4,667.3 L154.8,667.1 L155.5,669.6 L156.0,666.6 L156.7,666.7 L157.2,670.5 L157.9,669.2 L158.3,668.1 L158.6,671.0 L159.4,669.6 L159.6,668.6 L160.1,668.9 L161.1,667.0 L161.7,668.8 L162.5,670.2 L163.2,671.5" fill="none" stroke="#555" stroke-width="0.9" stroke-linejoin="round"/>
<path d="M54.5,448.5 L54.6,449.4 L54.7,450.2 L54.7,451.0 L54.8,451.8 L54.9,452.4 L55.0,453.0 L55.1,453.5 L55.2,453.8 L55.3,454.1 L55.4,454.3 L55.5,454.5 L55.5,454.6 L55.6,454.8 L55.7,454.9 L55.8,455.0 L55.9,455.2 L56.0,455.4 L56.2,455.7 L56.3,456.1 L56.4,456.6 L56.5,457.2 L56.6,458.0 L56.7,458.9 L56.8,459.9 L57.0,460.9 L57.1,462.0 L57.2,463.2 L57.3,464.5 L57.4,465.8 L57.6,467.2 L57.7,468.6 L57.8,470.1 L58.0,471.6 L58.1,473.2 L58.3,474.9 L58.4,476.5 L58.5,478.2 L58.7,480.0 L58.9,481.8 L59.0,483.8 L59.2,485.9 L59.3,488.0 L59.5,490.3 L59.6,491.4 L59.7,492.6 L59.8,493.7 L59.8,494.9 L59.9,496.1 L60.0,497.2 L60.1,498.4 L60.2,499.6 L60.3,500.7 L60.4,501.9 L60.5,503.1 L60.5,504.2 L60.6,505.3 L60.7,506.5 L60.9,508.6 L61.1,510.7 L61.3,512.7 L61.5,514.6 L61.7,516.4 L61.9,518.1 L62.1,519.8 L62.4,521.4 L62.6,523.0 L62.8,524.6 L63.1,526.1" fill="none" stroke="#666" stroke-width="1.2" stroke-linejoin="round"/>
<path d="M63.1,526.1 L63.3,527.5 L63.5,529.0 L63.8,530.3 L64.0,531.7 L64.2,533.0 L64.4,534.2 L64.6,535.4 L64.8,536.6 L65.0,537.7 L65.2,538.8 L65.3,539.8 L65.5,540.7 L65.7,541.6 L65.8,542.5 L65.9,543.3 L66.1,544.1 L66.2,544.8 L66.3,545.5 L66.5,546.2 L66.6,546.8 L66.7,547.5 L66.8,548.1 L67.0,548.7 L67.1,549.4 L67.2,550.0 L67.3,550.6 L67.4,551.2 L67.6,551.8 L67.7,552.3 L67.8,552.9 L67.9,553.4 L68.0,553.9 L68.1,554.4 L68.2,554.8 L68.3,555.3 L68.4,555.8 L68.6,556.2 L68.7,556.7 L68.8,557.1 L68.9,557.5 L69.0,558.0 L69.1,558.4 L69.2,558.8 L69.3,559.2 L69.4,559.6 L69.5,559.9 L69.6,560.3 L69.7,560.6 L69.8,561.0 L69.9,561.3 L70.0,561.7 L70.1,562.1 L70.2,562.5 L70.4,562.9 L70.5,563.4 L70.7,563.9 L70.9,564.5 L71.1,565.1 L71.3,565.8 L71.6,566.5 L71.8,567.3 L72.1,568.1 L72.3,568.9 L72.6,569.7 L72.9,570.6 L73.2,571.4 L73.5,572.3 L73.8,573.2 L74.1,574.0 L74.4,574.8 L74.7,575.7 L75.1,576.4 L75.4,577.2 L75.7,577.9 L76.1,578.7 L76.5,579.4 L76.8,580.1 L77.2,580.8 L77.6,581.5 L78.0,582.2 L78.4,582.9 L78.8,583.6 L79.3,584.3 L79.7,585.0 L80.1,585.6 L80.5,586.2 L80.9,586.9 L81.4,587.5 L81.8,588.1 L82.2,588.7 L82.7,589.3 L83.1,589.8 L83.5,590.4 L84.0,591.0 L84.4,591.5 L84.8,592.0 L85.3,592.5 L85.7,593.1 L86.2,593.5 L86.6,594.0 L87.1,594.5 L87.6,595.0 L88.0,595.4 L88.5,595.9 L89.0,596.3 L89.5,596.7 L90.0,597.1 L90.5,597.5 L91.0,597.9 L91.5,598.3 L92.0,598.6 L92.5,599.0 L93.0,599.3 L93.5,599.7 L94.0,600.0 L94.5,600.3 L95.1,600.6 L95.6,600.9 L96.1,601.2 L96.7,601.4 L97.2,601.7 L97.7,601.9 L98.3,602.2 L98.9,602.4 L99.4,602.6 L100.0,602.7 L100.6,602.9 L101.1,603.1 L101.7,603.2 L102.3,603.4 L102.9,603.5 L103.4,603.6 L104.0,603.8 L104.6,603.9 L105.2,604.1 L105.7,604.2 L106.3,604.4 L106.9,604.6 L107.4,604.8 L107.9,604.9 L108.4,605.1 L108.9,605.3 L109.4,605.5 L109.9,605.7 L110.5,605.9 L111.0,606.0 L111.5,606.2 L112.1,606.4 L112.7,606.6 L113.3,606.7 L113.9,606.9 L114.6,607.1 L115.3,607.2 L116.1,607.3 L116.9,607.5 L117.8,607.6 L118.7,607.8 L119.6,607.9 L120.6,608.1 L121.5,608.2 L122.5,608.3 L123.5,608.5 L124.5,608.6 L125.5,608.7 L126.4,608.8 L127.4,608.9 L128.3,608.9 L129.1,609.0 L129.9,609.0 L130.7,609.0 L131.4,609.0 L132.1,609.0 L132.7,609.0 L133.4,608.9 L134.0,608.9 L134.6,608.8 L135.2,608.7 L135.8,608.7 L136.4,608.6 L137.0,608.5 L137.6,608.4 L138.2,608.3 L138.8,608.2 L139.4,608.1 L140.0,608.0 L140.6,607.9 L141.2,607.8 L141.8,607.7 L142.4,607.6 L143.0,607.5 L143.6,607.4 L144.2,607.3 L144.8,607.2 L145.4,607.0 L146.0,606.9 L146.7,606.8 L147.3,606.6 L147.9,606.5 L148.6,606.3 L149.3,606.2 L150.0,606.0 L150.8,605.8 L151.6,605.6 L152.4,605.4 L153.3,605.1 L154.3,604.9 L155.2,604.6 L156.2,604.4 L157.1,604.1 L158.1,603.9 L158.9,603.6 L159.8,603.4 L160.6,603.2 L161.3,603.0 L162.0,602.8 L162.5,602.6 L163.0,602.5" fill="none" stroke="#707070" stroke-width="1.9" stroke-linejoin="round"/>
<path d="M51.5,463.0 L51.5,462.5 L51.6,461.9 L51.6,461.2 L51.6,460.4 L51.7,459.5 L51.7,459.0 L51.7,458.6 L51.7,458.1 L51.8,457.6 L51.8,457.1 L51.8,456.6 L51.8,456.0 L51.8,455.5 L51.9,455.0 L51.9,454.5 L51.9,454.0 L52.0,453.5 L52.0,453.0 L52.0,452.5 L52.0,452.0 L52.1,451.5 L52.1,450.6 L52.2,449.8 L52.2,449.0 L52.2,448.3 L52.3,447.6 L52.3,446.9 L52.4,446.2 L52.4,445.5 L52.5,444.8 L52.5,444.2 L52.6,443.6 L52.6,443.0 L52.7,442.4 L52.7,441.9 L52.8,441.4 L52.8,441.0 L52.9,440.6 L52.9,440.3 L53.0,440.0 L53.0,439.8 L53.1,439.6 L53.1,439.4 L53.2,439.3 L53.2,439.2 L53.3,439.2 L53.3,439.2 L53.4,439.2 L53.4,439.3 L53.5,439.4 L53.5,439.5 L53.6,439.7 L53.6,440.0 L53.7,440.3 L53.7,440.6 L53.8,441.0 L53.9,441.5 L53.9,442.0 L54.0,442.7 L54.1,443.4 L54.1,444.2 L54.2,445.0 L54.3,445.9 L54.3,446.8 L54.4,447.6 L54.5,448.5 L54.6,449.4 L54.7,450.2 L54.7,451.0 L54.8,451.8 L54.9,452.4 L55.0,453.0 L55.1,453.5 L55.2,453.8 L55.3,454.1 L55.4,454.3 L55.5,454.5 L55.5,454.6 L55.6,454.8 L55.7,454.9 L55.8,455.0 L55.9,455.2 L56.0,455.4 L56.2,455.7 L56.3,456.1 L56.4,456.6 L56.5,457.2 L56.6,458.0 L56.7,458.9 L56.8,459.4 L56.8,459.9 L56.9,460.4 L57.0,460.9 L57.2,461.7 L57.0,462.0 L57.2,462.7 L57.1,462.7 L57.2,464.0 L57.5,464.3 L57.3,465.5 L57.5,465.2 L57.6,466.9 L57.6,467.8 L57.8,467.6 L57.7,468.4 L57.7,469.9 L57.8,469.3 L58.1,471.0 L58.1,470.9 L57.9,472.8 L58.1,473.3 L57.9,473.9 L58.0,473.9 L58.1,474.7 L58.2,475.0 L58.4,474.9 L58.2,476.5 L58.3,477.1 L58.6,477.2 L58.5,477.7 L58.4,477.7 L58.6,479.2 L58.5,479.2 L58.6,479.1 L58.9,479.8 L58.7,480.5 L58.7,481.9 L58.9,483.5 L59.1,483.3 L59.1,483.6 L59.0,485.2 L59.0,484.2 L59.2,484.5 L59.4,487.4 L59.3,488.2 L59.5,487.8 L59.4,488.1 L59.4,490.2 L59.6,489.6 L59.3,491.4 L59.7,490.3 L59.4,492.3 L59.7,492.7 L59.5,494.3 L59.8,493.7 L59.9,493.2 L59.7,493.4 L59.7,494.0 L60.0,494.8 L59.8,494.9 L59.9,495.5 L60.2,498.3 L59.9,496.9 L60.2,499.5 L60.3,498.9 L60.0,499.5 L60.3,499.1 L60.4,500.9 L60.2,500.7 L60.3,501.3 L60.3,501.6 L60.7,504.1 L60.6,502.4 L60.5,503.4 L60.5,504.1 L60.8,506.7 L60.8,504.8 L60.7,505.2 L60.9,509.0 L60.6,507.1 L60.7,509.0 L60.8,508.5 L60.9,509.6 L60.9,510.8 L61.2,509.5 L61.1,511.4 L61.4,512.4 L61.1,513.0 L61.5,514.1 L61.4,512.6 L61.5,515.7 L61.6,513.7 L61.5,517.0 L61.6,517.4 L61.6,516.5 L61.8,517.6 L62.0,516.9 L62.1,519.9 L61.9,518.8 L62.1,521.1 L62.2,520.4 L62.2,519.2 L62.3,520.3 L62.3,523.6 L62.3,523.2 L62.6,523.4 L62.8,524.3 L62.6,525.3 L62.7,524.6 L62.8,523.9 L62.9,526.4 L63.0,527.1 L63.2,528.8 L63.4,527.9 L63.6,528.5 L63.6,529.0 L63.9,530.1 L64.0,532.7 L64.2,529.8 L64.1,534.2 L64.2,533.5 L64.3,531.7 L64.6,532.1 L64.6,536.0 L64.8,536.8 L64.6,533.9 L64.8,537.4 L64.8,539.1 L65.2,537.8 L65.1,537.2 L65.4,537.0 L65.2,539.3 L65.2,539.9 L65.4,538.5 L65.3,539.7 L65.7,541.9 L65.7,542.8 L66.0,544.4 L66.0,544.6 L66.2,543.5 L66.1,544.9 L66.4,545.4 L66.5,547.1 L66.8,550.1 L67.0,546.3 L66.9,548.4 L66.9,549.0 L67.3,548.5 L67.3,548.7 L67.6,552.2 L67.7,553.6 L67.7,553.7 L68.0,554.5 L67.7,551.2 L68.0,555.5 L68.1,557.1 L68.3,556.5 L68.3,554.6 L68.4,557.1 L68.5,556.5 L68.7,558.4 L68.7,556.8 L68.9,555.4 L68.9,555.5 L69.3,560.5 L69.4,557.1 L69.3,554.8 L69.5,559.6 L69.5,560.2 L69.5,560.4 L69.6,559.8 L69.8,563.6 L69.8,558.9 L70.1,562.0 L70.1,564.8 L70.2,563.2 L70.2,563.1 L70.7,562.3 L70.9,564.0 L71.1,565.6 L71.0,567.5 L71.3,564.5 L71.6,564.7 L72.0,567.9 L72.0,569.3 L72.4,570.6 L72.7,566.7 L72.7,571.1 L73.1,571.4 L73.7,573.2 L73.6,573.6 L73.9,571.9 L74.4,572.4 L74.9,577.6 L75.2,572.5 L75.3,576.1 L75.6,576.0 L76.0,581.1 L76.3,579.1 L77.0,582.5 L77.1,580.5 L77.8,578.8 L78.2,581.1 L78.6,581.8 L78.7,583.6 L79.1,583.6 L79.7,583.8 L80.0,587.4 L80.7,585.4 L80.8,585.6 L81.3,587.7 L81.9,585.5 L82.1,587.8 L82.5,588.0 L82.9,590.8 L83.4,591.6 L83.9,593.0 L84.3,593.5 L84.8,591.1 L85.5,595.3 L85.7,593.1 L86.1,591.3 L86.6,596.4 L87.0,593.0 L87.6,597.2 L88.2,595.7 L88.5,595.2 L88.8,595.2 L89.4,594.8 L90.0,598.1 L90.4,596.7 L90.8,595.3 L91.4,596.0 L92.1,598.1 L92.3,601.3 L93.1,597.3 L93.5,600.7 L93.9,601.0 L94.6,602.4 L95.2,598.7 L95.4,602.3 L96.0,598.4 L96.5,600.3 L97.1,600.6 L97.8,604.0 L98.4,600.7 L99.0,601.0 L99.2,604.2 L99.8,604.9 L100.7,601.4 L101.2,601.3 L101.7,600.7 L102.2,604.8 L102.8,601.0 L103.5,606.2 L104.0,605.8 L104.6,601.3 L105.0,604.1 L105.8,606.6 L106.3,606.2 L106.9,607.4 L107.3,602.5 L107.8,604.4 L108.5,602.9 L108.9,603.7 L109.4,605.2 L109.8,604.5 L110.6,606.2 L110.8,606.3 L111.5,607.2 L111.9,608.0 L112.5,605.3 L113.1,604.1 L113.8,608.1 L114.5,606.0 L115.1,605.2 L115.9,610.3 L116.9,608.8 L117.7,605.3 L118.5,605.9 L119.2,610.4 L119.5,610.5 L119.9,606.5 L120.5,609.7 L121.2,606.3 L121.7,610.8 L122.0,610.3 L122.5,606.4 L123.0,607.6 L123.3,610.4 L124.1,608.9 L124.7,609.8 L124.9,608.6 L125.3,607.5 L125.9,609.9 L126.3,611.6 L127.5,608.5 L128.4,605.9 L129.0,610.7 L129.9,610.0 L130.7,608.0 L131.2,611.0 L132.1,607.8 L132.6,608.1 L133.6,607.9 L134.2,611.3 L134.8,611.6 L135.3,606.1 L136.0,607.4 L136.3,608.5 L136.8,607.5 L137.6,606.5 L138.1,605.8 L138.8,608.7 L139.2,608.5 L140.0,606.1 L140.5,605.6 L141.1,605.4 L141.7,607.6 L142.4,608.0 L143.0,608.0 L143.8,604.8 L144.3,607.6 L144.9,604.8 L145.4,604.6 L146.1,604.9 L146.8,608.4 L147.2,604.0 L147.8,603.6 L148.6,605.1 L149.4,608.5 L150.1,606.4 L150.7,603.8 L151.7,607.2 L152.5,603.1 L152.7,608.0 L153.4,605.8 L154.0,606.8 L154.2,606.0 L154.8,604.5 L155.1,601.2 L155.7,606.3 L156.1,603.1 L156.7,602.1 L157.3,605.3 L157.4,601.1 L158.2,603.9 L159.1,600.8 L159.8,604.5 L160.6,601.1 L161.2,605.2 L162.1,601.8 L162.4,603.4 L163.0,601.7" fill="none" stroke="#555" stroke-width="0.9" stroke-linejoin="round"/>
<path d="M54.6,437.3 L54.7,437.8 L54.8,438.2 L54.9,438.8 L55.0,439.4 L55.1,440.0 L55.3,440.6 L55.4,441.3 L55.5,442.0 L55.7,442.7 L55.8,443.5 L56.0,444.2 L56.1,444.9 L56.2,445.6 L56.4,446.3 L56.5,447.0 L56.6,447.6 L56.8,448.3 L56.9,448.8 L57.0,449.4 L57.1,450.0 L57.3,450.6 L57.4,451.2 L57.5,451.8 L57.6,452.4 L57.8,453.0 L57.9,453.7 L58.1,454.5 L58.2,455.2 L58.4,456.1 L58.5,457.0 L58.7,458.0 L58.9,459.1 L59.1,460.3 L59.3,461.5 L59.4,462.8 L59.7,464.2 L59.9,465.7 L60.1,467.1 L60.3,468.6 L60.5,470.1 L60.7,471.6 L60.9,473.1 L61.2,474.6 L61.4,476.0 L61.6,477.4 L61.9,478.7 L62.1,480.0 L62.3,481.2 L62.6,482.4 L62.8,483.5 L63.1,484.7" fill="none" stroke="#666" stroke-width="1.2" stroke-linejoin="round"/>
<path d="M63.1,484.7 L63.3,485.8 L63.5,486.8 L63.8,487.9 L64.0,488.9 L64.3,490.0 L64.6,491.0 L64.8,492.1 L65.1,493.1 L65.4,494.1 L65.6,495.2 L65.9,496.2 L66.2,497.3 L66.5,498.4 L66.8,499.5 L67.1,500.6 L67.4,501.8 L67.7,502.9 L68.0,504.0 L68.4,505.2 L68.7,506.3 L69.0,507.4 L69.3,508.5 L69.7,509.6 L70.0,510.7 L70.3,511.7 L70.7,512.7 L71.0,513.7 L71.3,514.6 L71.6,515.5 L71.9,516.3 L72.2,517.1 L72.6,517.9 L72.9,518.6 L73.2,519.4 L73.5,520.1 L73.8,520.8 L74.1,521.4 L74.4,522.1 L74.7,522.8 L75.1,523.4 L75.4,524.1 L75.8,524.8 L76.1,525.5 L76.5,526.2 L76.9,526.9 L77.3,527.7 L77.8,528.5 L78.2,529.3 L78.7,530.1 L79.2,530.9 L79.7,531.7 L80.2,532.5 L80.7,533.3 L81.2,534.0 L81.6,534.8 L82.1,535.4 L82.5,536.1 L82.9,536.7 L83.2,537.2 L83.5,537.7 L83.8,538.1 L84.0,538.4 L84.1,538.7 L84.2,538.9 L84.3,539.1 L84.4,539.2 L84.4,539.3 L84.5,539.4 L84.5,539.5 L84.6,539.6 L84.7,539.6 L84.8,539.7 L84.9,539.9 L85.0,540.0 L85.2,540.2 L85.5,540.5 L85.8,540.8 L86.1,541.2 L86.5,541.5 L86.9,541.9 L87.3,542.3 L87.8,542.8 L88.3,543.2 L88.7,543.7 L89.2,544.1 L89.7,544.6 L90.2,545.0 L90.7,545.5 L91.2,545.9 L91.7,546.3 L92.2,546.7 L92.7,547.0 L93.2,547.3 L93.6,547.6 L94.1,547.9 L94.6,548.2 L95.1,548.4 L95.6,548.7 L96.0,548.9 L96.5,549.2 L97.0,549.4 L97.5,549.6 L98.0,549.8 L98.5,550.0 L99.0,550.2 L99.4,550.4 L99.9,550.6 L100.4,550.8 L100.9,551.0 L101.4,551.2 L101.8,551.3 L102.3,551.5 L102.8,551.6 L103.2,551.8 L103.7,551.9 L104.2,552.1 L104.7,552.2 L105.1,552.3 L105.6,552.4 L106.1,552.6 L106.6,552.7 L107.0,552.8 L107.5,552.9 L108.0,553.0 L108.5,553.1 L109.0,553.2 L109.5,553.3 L109.9,553.4 L110.4,553.5 L110.9,553.6 L111.4,553.7 L111.9,553.8 L112.4,553.9 L112.9,554.0 L113.4,554.0 L113.9,554.1 L114.3,554.1 L114.8,554.2 L115.3,554.2 L115.8,554.2 L116.3,554.2 L116.8,554.2 L117.2,554.1 L117.7,554.1 L118.2,554.1 L118.7,554.0 L119.2,553.9 L119.7,553.9 L120.1,553.8 L120.6,553.7 L121.1,553.6 L121.6,553.5 L122.1,553.4 L122.5,553.3 L123.0,553.1 L123.5,553.0 L124.0,552.9 L124.5,552.7 L124.9,552.5 L125.4,552.4 L125.9,552.2 L126.4,552.0 L126.9,551.8 L127.4,551.6 L127.8,551.4 L128.3,551.2 L128.8,551.0 L129.3,550.8 L129.8,550.6 L130.2,550.4 L130.7,550.2 L131.2,550.0 L131.7,549.8 L132.2,549.6 L132.6,549.4 L133.1,549.2 L133.6,549.0 L134.1,548.8 L134.5,548.6 L135.0,548.4 L135.5,548.2 L135.9,548.0 L136.4,547.8 L136.9,547.7 L137.4,547.5 L137.8,547.3 L138.3,547.1 L138.8,547.0 L139.3,546.9 L139.8,546.7 L140.2,546.6 L140.7,546.5 L141.2,546.4 L141.7,546.3 L142.2,546.2 L142.6,546.1 L143.1,546.0 L143.6,545.9 L144.1,545.8 L144.6,545.7 L145.1,545.6 L145.5,545.6 L146.0,545.5 L146.5,545.4 L147.0,545.3 L147.5,545.3 L147.9,545.2 L148.4,545.1 L148.9,545.1 L149.3,545.0 L149.8,545.0 L150.3,544.9 L150.8,544.9 L151.2,544.8 L151.7,544.8 L152.2,544.7 L152.7,544.7 L153.2,544.7 L153.7,544.6 L154.2,544.6 L154.7,544.6 L155.3,544.5 L155.9,544.5 L156.5,544.5 L157.2,544.5 L157.8,544.4 L158.4,544.4 L159.1,544.4 L159.7,544.4 L160.3,544.4 L160.9,544.4 L161.4,544.3 L161.9,544.3 L162.3,544.3 L162.7,544.3 L163.0,544.3" fill="none" stroke="#707070" stroke-width="1.9" stroke-linejoin="round"/>
<path d="M51.5,463.0 L51.5,462.5 L51.6,461.8 L51.6,461.1 L51.7,460.2 L51.8,459.3 L51.8,458.8 L51.8,458.3 L51.9,457.8 L51.9,457.3 L51.9,456.7 L52.0,456.2 L52.0,455.6 L52.1,455.1 L52.1,454.5 L52.1,454.0 L52.2,453.4 L52.2,452.9 L52.3,452.4 L52.3,451.8 L52.3,451.3 L52.4,450.8 L52.4,450.3 L52.5,449.8 L52.5,449.3 L52.5,448.9 L52.6,448.0 L52.7,447.2 L52.7,446.4 L52.8,445.5 L52.9,444.7 L53.0,443.9 L53.1,443.1 L53.1,442.3 L53.2,441.6 L53.3,440.8 L53.4,440.1 L53.5,439.5 L53.5,438.9 L53.6,438.3 L53.7,437.8 L53.7,437.4 L53.8,437.0 L53.9,436.7 L53.9,436.4 L53.9,436.2 L54.0,436.0 L54.0,435.9 L54.0,435.8 L54.1,435.7 L54.1,435.7 L54.1,435.7 L54.2,435.8 L54.2,435.9 L54.2,436.0 L54.3,436.2 L54.4,436.4 L54.4,436.7 L54.5,437.0 L54.6,437.3 L54.7,437.8 L54.8,438.2 L54.9,438.8 L55.0,439.4 L55.1,440.0 L55.3,440.6 L55.4,441.3 L55.5,442.0 L55.7,442.7 L55.8,443.5 L56.0,444.2 L56.1,444.9 L56.2,445.6 L56.4,446.3 L56.5,447.0 L56.6,447.6 L56.8,448.3 L56.9,448.8 L57.2,449.8 L57.0,449.7 L57.1,449.9 L57.3,451.2 L57.4,452.4 L57.8,451.9 L57.9,452.2 L57.9,453.3 L58.2,454.7 L58.4,455.2 L58.2,455.4 L58.6,456.8 L58.5,456.2 L58.7,458.3 L58.6,457.5 L58.7,458.4 L58.8,459.6 L59.0,460.7 L59.2,459.5 L59.3,460.4 L59.2,461.0 L59.4,463.0 L59.5,463.1 L59.7,464.4 L59.8,463.9 L60.0,464.2 L59.7,464.9 L60.1,468.1 L59.9,466.2 L60.0,467.0 L60.4,468.2 L60.2,470.4 L60.6,469.4 L60.5,469.6 L60.5,471.4 L61.0,473.8 L60.8,472.0 L61.1,473.6 L61.2,473.5 L61.3,474.1 L61.3,477.3 L61.6,478.2 L61.5,476.7 L61.8,476.0 L61.8,478.4 L62.0,477.7 L62.2,480.1 L62.3,482.3 L62.3,480.9 L62.4,483.5 L62.8,482.1 L62.9,481.2 L62.8,482.6 L62.8,483.1 L63.2,486.0 L63.1,483.5 L63.2,486.3 L63.5,489.1 L63.6,488.2 L63.7,489.4 L63.9,488.9 L64.0,488.0 L64.1,489.7 L64.2,489.6 L64.3,489.0 L64.4,491.5 L64.7,489.8 L64.7,491.7 L64.7,493.5 L65.0,494.1 L65.2,494.6 L65.4,491.4 L65.2,495.6 L65.4,493.4 L65.6,496.7 L66.0,493.7 L65.9,497.2 L65.9,498.3 L66.2,498.2 L66.3,496.5 L66.4,497.5 L66.5,499.5 L66.7,500.7 L66.8,498.7 L67.0,501.4 L67.3,500.8 L67.4,500.7 L67.5,501.6 L67.8,502.4 L67.9,502.6 L68.2,506.6 L68.3,505.9 L68.5,504.2 L68.5,505.0 L68.5,508.7 L68.8,507.4 L69.0,509.5 L69.2,510.3 L69.4,508.6 L69.3,510.5 L69.8,510.7 L69.7,511.8 L69.8,508.1 L70.2,508.7 L70.4,509.0 L70.6,512.1 L70.9,512.2 L70.7,515.1 L70.8,512.7 L71.0,517.1 L71.4,513.5 L71.4,515.4 L71.8,512.8 L71.8,518.1 L72.3,514.4 L72.5,517.1 L73.0,519.2 L73.2,517.6 L73.5,517.4 L73.7,520.2 L74.0,520.1 L74.5,523.4 L74.7,522.5 L75.0,526.8 L75.6,525.4 L75.6,522.2 L76.2,528.0 L76.6,526.2 L77.0,525.7 L77.2,525.6 L77.9,526.1 L78.3,532.0 L78.6,528.2 L78.8,527.0 L78.9,527.7 L79.1,529.3 L79.6,531.7 L79.6,530.7 L79.9,533.9 L80.3,529.7 L80.5,531.6 L81.1,533.8 L81.8,535.8 L82.3,533.2 L82.4,538.7 L82.9,535.8 L83.2,539.8 L83.5,539.9 L83.7,535.6 L83.8,540.8 L84.1,542.5 L84.4,541.7 L84.3,540.5 L84.5,538.9 L84.4,537.4 L84.3,536.8 L84.6,539.8 L84.6,539.2 L84.5,537.2 L84.7,540.2 L84.7,540.8 L85.2,542.7 L85.1,542.5 L85.3,538.1 L85.7,540.8 L86.2,541.0 L86.4,541.6 L86.8,541.4 L87.3,540.8 L88.0,546.3 L88.3,543.2 L88.8,544.8 L89.0,542.1 L89.7,544.0 L90.3,547.4 L90.9,543.9 L91.1,547.2 L91.6,546.9 L92.4,547.4 L92.7,546.1 L93.3,551.1 L93.5,547.1 L94.2,546.4 L94.4,546.1 L95.0,546.6 L95.7,551.5 L96.2,548.8 L96.6,551.6 L97.1,547.6 L97.6,551.3 L98.2,548.9 L98.3,551.1 L99.1,552.2 L99.6,551.9 L100.1,551.2 L100.3,552.5 L101.1,553.7 L101.5,548.9 L101.7,549.8 L102.2,549.7 L102.8,551.6 L103.4,553.0 L103.9,553.7 L104.0,554.0 L104.6,553.1 L105.3,552.9 L105.4,549.5 L106.1,550.2 L106.5,553.3 L107.2,551.1 L107.4,553.6 L108.0,551.6 L108.3,554.1 L109.1,554.9 L109.6,551.4 L110.1,552.6 L110.4,554.2 L110.9,553.6 L111.5,556.7 L111.7,551.8 L112.4,551.9 L112.8,555.8 L113.5,551.6 L114.0,554.2 L114.2,556.5 L115.0,554.9 L115.4,553.4 L115.9,553.5 L116.2,556.6 L116.9,558.5 L117.2,555.3 L117.8,555.6 L118.1,556.3 L118.9,551.8 L119.2,551.8 L119.8,551.1 L120.2,554.6 L120.6,552.4 L121.2,556.5 L121.8,554.5 L122.0,554.6 L122.7,551.2 L122.9,554.9 L123.4,553.1 L123.9,554.3 L124.4,550.0 L124.8,555.4 L125.3,551.2 L125.8,551.1 L126.3,550.6 L126.8,554.6 L127.5,554.1 L127.8,552.2 L128.3,549.1 L128.9,551.4 L129.4,549.4 L129.8,550.8 L130.1,548.9 L130.7,552.2 L131.1,552.6 L131.8,547.2 L132.3,550.7 L132.7,547.1 L133.2,552.0 L133.8,550.7 L134.0,550.3 L134.4,550.4 L135.0,550.6 L135.3,549.2 L135.9,547.1 L136.5,547.8 L136.9,548.1 L137.5,546.1 L137.9,549.3 L138.5,548.7 L138.9,549.4 L139.1,547.8 L139.8,548.0 L140.3,545.3 L140.6,548.4 L141.3,544.7 L141.6,549.1 L142.3,547.4 L142.7,544.5 L142.9,543.8 L143.7,545.6 L143.9,543.0 L144.5,544.1 L144.9,544.6 L145.7,547.3 L145.8,547.3 L146.5,547.9 L147.0,544.9 L147.4,546.6 L147.8,545.3 L148.5,547.3 L149.1,547.8 L149.2,542.4 L149.9,544.7 L150.2,544.6 L150.6,544.3 L151.2,546.2 L151.6,543.0 L152.3,543.3 L152.9,547.5 L153.3,547.2 L153.5,542.0 L154.3,546.8 L154.6,543.1 L155.2,545.3 L155.8,541.8 L156.5,546.9 L157.0,542.1 L158.0,546.1 L158.4,546.9 L158.9,546.3 L159.6,544.8 L160.5,542.1 L161.1,545.6 L161.3,544.0 L161.7,546.2 L162.3,541.4 L162.8,543.2 L162.8,546.0" fill="none" stroke="#555" stroke-width="0.9" stroke-linejoin="round"/>
<path d="M54.5,435.5 L54.6,435.6 L54.7,435.8 L54.8,436.0 L54.9,436.2 L55.0,436.5 L55.1,436.9 L55.2,437.2 L55.4,437.7 L55.5,438.1 L55.6,438.6 L55.7,439.1 L55.9,439.7 L56.0,440.2 L56.2,440.8 L56.3,441.4 L56.5,442.1 L56.7,442.7 L56.8,443.3 L57.0,444.0 L57.2,444.7 L57.4,445.3 L57.6,446.0 L57.8,446.7 L58.0,447.4 L58.2,448.1 L58.4,448.8 L58.6,449.6 L58.8,450.4 L59.1,451.2 L59.3,452.0 L59.5,452.9 L59.8,453.9 L60.0,454.9 L60.3,455.9 L60.5,457.0 L60.8,458.2 L61.0,459.4 L61.3,460.8 L61.5,462.2 L61.8,463.7 L62.1,465.2 L62.4,466.7 L62.6,468.2 L62.9,469.8 L63.2,471.4" fill="none" stroke="#666" stroke-width="1.2" stroke-linejoin="round"/>
<path d="M63.2,471.4 L63.5,472.9 L63.8,474.4 L64.1,475.9 L64.4,477.3 L64.7,478.7 L65.0,480.0 L65.3,481.2 L65.6,482.4 L65.9,483.6 L66.2,484.7 L66.6,485.8 L66.9,486.9 L67.2,488.0 L67.5,489.0 L67.8,490.0 L68.2,491.0 L68.5,492.0 L68.8,493.0 L69.2,494.0 L69.5,495.0 L69.9,496.0 L70.2,497.0 L70.5,498.0 L70.9,499.0 L71.2,500.0 L71.6,500.9 L71.9,501.9 L72.3,502.9 L72.6,503.8 L73.0,504.8 L73.3,505.7 L73.7,506.6 L74.0,507.5 L74.4,508.4 L74.8,509.3 L75.2,510.2 L75.6,511.1 L76.0,512.0 L76.4,512.9 L76.9,513.8 L77.3,514.7 L77.8,515.5 L78.3,516.4 L78.8,517.3 L79.2,518.2 L79.7,519.1 L80.2,519.9 L80.7,520.7 L81.2,521.5 L81.7,522.3 L82.2,523.0 L82.6,523.7 L83.1,524.4 L83.5,525.0 L83.9,525.6 L84.3,526.1 L84.8,526.6 L85.2,527.1 L85.6,527.5 L86.0,527.9 L86.4,528.3 L86.8,528.7 L87.1,529.0 L87.5,529.4 L87.9,529.7 L88.2,530.0 L88.6,530.3 L88.9,530.6 L89.2,530.9 L89.5,531.2 L89.8,531.5 L90.0,531.8 L90.2,532.0 L90.4,532.2 L90.6,532.4 L90.7,532.6 L90.9,532.8 L91.0,533.0 L91.1,533.2 L91.3,533.4 L91.5,533.5 L91.6,533.7 L91.9,533.9 L92.1,534.1 L92.4,534.4 L92.7,534.6 L93.1,534.9 L93.4,535.1 L93.9,535.4 L94.3,535.7 L94.8,536.0 L95.3,536.3 L95.8,536.6 L96.3,536.9 L96.8,537.2 L97.3,537.5 L97.9,537.8 L98.4,538.1 L98.9,538.4 L99.4,538.7 L99.9,539.0 L100.4,539.2 L100.9,539.4 L101.4,539.7 L101.8,539.9 L102.3,540.1 L102.8,540.3 L103.2,540.5 L103.7,540.7 L104.2,540.9 L104.7,541.1 L105.1,541.3 L105.6,541.5 L106.1,541.7 L106.6,541.8 L107.0,542.0 L107.5,542.2 L108.0,542.3 L108.5,542.4 L109.0,542.6 L109.5,542.7 L109.9,542.8 L110.4,543.0 L110.9,543.1 L111.4,543.2 L111.9,543.3 L112.4,543.4 L112.9,543.5 L113.4,543.6 L113.9,543.6 L114.3,543.7 L114.8,543.7 L115.3,543.8 L115.8,543.8 L116.3,543.8 L116.8,543.8 L117.2,543.8 L117.7,543.8 L118.2,543.7 L118.7,543.7 L119.2,543.6 L119.7,543.6 L120.1,543.5 L120.6,543.5 L121.1,543.4 L121.6,543.3 L122.1,543.2 L122.5,543.1 L123.0,543.1 L123.5,543.0 L124.0,542.9 L124.5,542.8 L124.9,542.8 L125.4,542.7 L125.9,542.6 L126.4,542.5 L126.9,542.4 L127.4,542.3 L127.8,542.2 L128.3,542.1 L128.8,542.0 L129.3,541.9 L129.8,541.8 L130.2,541.7 L130.7,541.6 L131.2,541.5 L131.7,541.4 L132.2,541.3 L132.6,541.2 L133.1,541.1 L133.6,541.0 L134.1,540.9 L134.5,540.8 L135.0,540.8 L135.5,540.7 L135.9,540.6 L136.4,540.5 L136.9,540.4 L137.4,540.3 L137.8,540.2 L138.3,540.1 L138.8,540.0 L139.3,539.9 L139.8,539.8 L140.2,539.7 L140.7,539.6 L141.2,539.5 L141.7,539.4 L142.2,539.3 L142.6,539.2 L143.1,539.1 L143.6,539.0 L144.1,538.9 L144.6,538.8 L145.1,538.7 L145.5,538.6 L146.0,538.6 L146.5,538.5 L147.0,538.4 L147.5,538.4 L147.9,538.4 L148.4,538.4 L148.9,538.3 L149.3,538.3 L149.8,538.3 L150.3,538.3 L150.8,538.3 L151.2,538.3 L151.7,538.3 L152.2,538.3 L152.7,538.3 L153.2,538.3 L153.7,538.2 L154.2,538.2 L154.7,538.2 L155.3,538.1 L155.9,538.1 L156.5,538.0 L157.2,537.9 L157.8,537.9 L158.4,537.8 L159.1,537.7 L159.7,537.7 L160.3,537.6 L160.9,537.5 L161.4,537.5 L161.9,537.4 L162.3,537.4 L162.7,537.3 L163.0,537.3" fill="none" stroke="#707070" stroke-width="1.9" stroke-linejoin="round"/>
<path d="M51.5,463.0 L51.5,462.5 L51.6,461.8 L51.6,461.1 L51.7,460.2 L51.8,459.3 L51.8,458.8 L51.8,458.3 L51.9,457.8 L51.9,457.3 L51.9,456.7 L52.0,456.2 L52.0,455.6 L52.1,455.1 L52.1,454.5 L52.1,454.0 L52.2,453.4 L52.2,452.9 L52.3,452.4 L52.3,451.8 L52.3,451.3 L52.4,450.8 L52.4,450.3 L52.5,449.8 L52.5,449.3 L52.5,448.9 L52.6,448.0 L52.7,447.2 L52.7,446.4 L52.8,445.5 L52.9,444.7 L53.0,443.9 L53.1,443.1 L53.1,442.4 L53.2,441.6 L53.3,440.9 L53.4,440.2 L53.4,439.6 L53.5,439.0 L53.6,438.4 L53.7,437.9 L53.7,437.4 L53.8,437.0 L53.9,436.6 L53.9,436.3 L54.0,436.1 L54.0,435.8 L54.1,435.6 L54.1,435.5 L54.2,435.4 L54.2,435.3 L54.3,435.3 L54.3,435.3 L54.4,435.3 L54.5,435.4 L54.5,435.5 L54.6,435.6 L54.7,435.8 L54.8,436.0 L54.9,436.2 L55.0,436.5 L55.1,436.9 L55.2,437.2 L55.4,437.7 L55.5,438.1 L55.6,438.6 L55.7,439.1 L55.9,439.7 L56.0,440.2 L56.2,440.8 L56.3,441.4 L56.5,442.1 L56.7,442.7 L56.8,443.3 L57.0,444.0 L57.0,444.3 L57.5,445.0 L57.7,445.7 L57.8,447.3 L57.9,446.7 L58.2,448.3 L58.4,449.6 L58.8,449.8 L58.9,450.2 L58.9,452.1 L59.1,451.6 L59.7,452.4 L59.7,452.6 L59.9,454.3 L59.7,453.8 L59.9,455.3 L60.2,456.6 L60.3,456.3 L60.2,455.9 L60.4,455.7 L60.8,456.5 L60.9,458.7 L60.8,457.9 L61.0,459.2 L61.3,460.8 L61.1,460.3 L61.5,462.5 L61.4,463.1 L61.8,461.3 L61.8,462.5 L61.8,464.9 L62.0,463.8 L62.1,466.2 L62.4,463.9 L62.3,465.4 L62.6,468.0 L62.6,466.8 L62.8,466.8 L62.8,468.0 L62.7,468.3 L63.0,469.4 L62.8,470.2 L63.0,471.5 L63.1,469.6 L63.2,471.7 L63.3,470.9 L63.4,471.8 L63.6,471.9 L63.6,476.2 L64.0,474.0 L64.2,477.5 L64.3,475.0 L64.5,476.2 L64.5,476.8 L64.8,480.6 L64.8,477.4 L64.9,478.6 L65.1,478.8 L65.4,478.9 L65.4,481.9 L65.5,483.6 L65.8,483.0 L66.1,481.8 L66.0,485.4 L66.1,486.8 L66.2,485.8 L66.5,483.6 L66.8,484.4 L66.8,487.4 L67.2,488.9 L67.2,486.5 L67.6,491.0 L67.7,489.7 L67.7,487.8 L67.8,488.4 L68.1,490.0 L68.0,488.2 L68.4,494.5 L68.5,490.6 L68.6,493.8 L68.7,490.8 L69.0,491.3 L69.1,497.5 L69.3,492.5 L69.6,494.5 L69.6,497.7 L69.7,498.7 L69.8,499.0 L70.4,495.7 L70.4,499.7 L70.6,500.1 L70.6,498.6 L71.0,499.9 L70.9,501.9 L71.3,497.4 L71.3,498.5 L71.6,499.4 L71.8,502.5 L72.0,502.6 L72.1,505.1 L72.3,503.9 L72.5,501.4 L72.8,502.2 L73.0,502.5 L73.1,507.2 L73.2,504.4 L73.2,503.4 L73.3,504.0 L73.5,506.0 L73.9,507.6 L74.0,506.7 L74.0,506.0 L74.4,509.5 L74.7,511.7 L74.9,510.2 L75.1,512.6 L75.3,509.0 L75.5,511.3 L75.4,511.7 L75.7,511.8 L75.9,508.1 L76.1,514.2 L76.6,511.5 L76.8,510.4 L76.8,516.6 L77.1,514.3 L77.1,514.5 L77.4,512.6 L77.7,516.3 L78.0,517.7 L78.4,516.4 L78.4,517.4 L78.8,518.5 L79.1,516.1 L79.1,515.8 L79.6,519.9 L79.8,517.4 L79.9,519.9 L80.3,520.4 L80.4,518.7 L80.5,520.9 L80.9,522.5 L81.3,522.3 L81.6,524.7 L82.0,524.0 L82.8,522.1 L83.2,525.7 L83.6,523.9 L83.8,522.9 L84.2,523.4 L84.7,529.2 L85.2,525.3 L85.7,527.7 L85.8,528.1 L86.4,525.8 L86.7,527.2 L87.2,528.0 L87.5,531.0 L87.9,532.3 L88.3,527.6 L88.8,528.3 L88.9,533.1 L89.0,531.6 L89.5,532.7 L89.6,529.0 L89.9,535.9 L90.1,533.6 L90.4,529.6 L90.4,534.4 L90.6,534.2 L91.0,530.6 L91.1,530.7 L91.1,535.5 L91.2,536.1 L91.6,533.3 L91.8,531.5 L91.8,531.6 L92.1,532.6 L92.5,537.3 L92.8,533.5 L93.0,533.9 L93.5,537.1 L93.9,532.5 L94.2,538.1 L94.7,538.1 L95.2,535.5 L95.7,535.9 L96.3,539.4 L96.7,539.6 L97.5,540.0 L98.0,539.2 L98.3,536.6 L98.9,540.5 L99.3,537.7 L100.1,541.0 L100.5,537.0 L100.7,540.5 L101.3,541.9 L101.9,538.9 L102.2,542.3 L102.7,538.8 L103.1,537.7 L103.8,538.2 L104.2,539.1 L104.6,542.9 L105.1,542.1 L105.5,543.9 L105.9,543.9 L106.6,542.4 L107.2,541.9 L107.5,543.1 L108.1,541.5 L108.3,540.2 L109.1,543.1 L109.5,542.3 L109.9,544.8 L110.5,541.3 L111.1,541.4 L111.5,542.8 L111.8,545.9 L112.3,542.4 L112.9,543.8 L113.6,541.4 L113.7,544.0 L114.4,546.1 L115.0,545.9 L115.3,541.1 L116.0,546.2 L116.3,543.9 L116.9,541.7 L117.2,543.3 L117.7,542.4 L118.0,543.6 L118.8,542.7 L119.2,542.1 L119.8,541.6 L120.2,541.7 L120.7,544.9 L121.3,542.0 L121.6,540.6 L122.2,540.7 L122.5,544.2 L123.0,543.9 L123.4,544.6 L124.0,540.9 L124.4,541.7 L124.9,540.3 L125.4,542.7 L125.9,542.2 L126.3,545.2 L126.7,542.9 L127.5,539.7 L127.8,541.6 L128.3,541.2 L128.8,539.9 L129.4,538.9 L129.9,540.9 L130.2,541.1 L130.8,541.9 L131.1,544.2 L131.7,543.5 L132.3,542.4 L132.5,541.5 L133.2,538.8 L133.6,538.2 L134.2,540.9 L134.7,539.9 L134.9,541.6 L135.6,540.0 L135.9,539.1 L136.4,539.6 L137.0,539.0 L137.2,538.2 L138.0,537.4 L138.1,538.0 L138.9,538.6 L139.3,542.4 L139.9,542.3 L140.3,539.3 L140.6,541.7 L141.2,541.7 L141.5,543.7 L142.2,535.9 L142.5,540.0 L143.2,537.2 L143.8,541.8 L144.0,538.5 L144.8,537.2 L144.9,539.9 L145.6,536.5 L146.1,535.9 L146.6,535.7 L147.1,538.9 L147.4,539.0 L148.1,541.0 L148.3,538.7 L148.7,537.6 L149.3,540.1 L149.8,535.4 L150.4,539.3 L150.9,537.8 L151.2,540.9 L151.9,537.6 L152.3,540.0 L152.6,541.2 L153.2,539.8 L153.7,536.2 L154.0,536.9 L154.6,540.7 L155.5,539.7 L156.1,538.6 L156.4,535.5 L157.3,536.6 L157.7,537.5 L158.3,539.2 L159.0,537.7 L159.6,538.6 L160.5,540.1 L161.0,537.1 L161.5,539.0 L161.9,536.8 L162.2,535.1 L162.9,538.9 L162.9,537.5" fill="none" stroke="#555" stroke-width="0.9" stroke-linejoin="round"/>
<polygon points="89.5,531 99.0,528.9 99.0,533.1" fill="#111"/>
<text x="120.5" y="523.2" font-size="8.2" text-anchor="start" class="i">wt/wt</text>
<text x="105.6" y="532.3" font-size="8"><tspan class="i">Jam-A</tspan><tspan x="133.3">+ PP2</tspan></text>
<polygon points="145.8,552 143.8,558.7 147.8,558.7" fill="#111"/>
<text x="125.9" y="563" font-size="7.9" text-anchor="start" class="i">gt/gt</text>
<text x="108.6" y="572.2" font-size="8"><tspan class="i">Jam-A</tspan><tspan x="135">+ PP2</tspan></text>
<polygon points="106,599.4 115.5,597.3 115.5,601.5" fill="#111"/>
<text x="134.5" y="591.8" font-size="8.1" text-anchor="start" class="i">wt/wt</text>
<text x="119.5" y="599.4" font-size="8" text-anchor="start" class="i">Jam-A</text>
<polygon points="113.7,650.6 122.7,648.5 122.7,652.7" fill="#111"/>
<text x="144" y="646.6" font-size="8" text-anchor="start" class="i">gt/gt</text>
<text x="128.5" y="653" font-size="8" text-anchor="start" class="i">Jam-A</text>
</g>
<g id="panelF">
<text x="258.4" y="441.4" font-size="13.3" text-anchor="start" class="b">F</text>
<text transform="translate(272,565.5) rotate(-90)" font-size="17" text-anchor="middle">% Light transmission</text>
<line x1="305.7" y1="493" x2="305.7" y2="641.3" stroke="#555" stroke-width="1"/>
<line x1="305.7" y1="641.3" x2="518" y2="641.3" stroke="#555" stroke-width="1"/>
<line x1="303" y1="641.3" x2="305.7" y2="641.3" stroke="#555" stroke-width="1"/>
<text x="300.3" y="645.5" font-size="11.8" text-anchor="end" class="b">0</text>
<line x1="303" y1="616.5999999999999" x2="305.7" y2="616.5999999999999" stroke="#555" stroke-width="1"/>
<text x="300.3" y="620.8" font-size="11.8" text-anchor="end" class="b">20</text>
<line x1="303" y1="591.9" x2="305.7" y2="591.9" stroke="#555" stroke-width="1"/>
<text x="300.3" y="596.1" font-size="11.8" text-anchor="end" class="b">40</text>
<line x1="303" y1="567.1999999999999" x2="305.7" y2="567.1999999999999" stroke="#555" stroke-width="1"/>
<text x="300.3" y="571.4" font-size="11.8" text-anchor="end" class="b">60</text>
<line x1="303" y1="542.5" x2="305.7" y2="542.5" stroke="#555" stroke-width="1"/>
<text x="300.3" y="546.7" font-size="11.8" text-anchor="end" class="b">80</text>
<line x1="303" y1="517.8" x2="305.7" y2="517.8" stroke="#555" stroke-width="1"/>
<text x="300.3" y="522.0" font-size="11.8" text-anchor="end" class="b">100</text>
<line x1="303" y1="493.09999999999997" x2="305.7" y2="493.09999999999997" stroke="#555" stroke-width="1"/>
<text x="300.3" y="497.29999999999995" font-size="11.8" text-anchor="end" class="b">120</text>
<rect x="335.5" y="564.5" width="26.0" height="76.79999999999995" fill="#000" stroke="#111" stroke-width="1"/>
<line x1="348.5" y1="564.5" x2="348.5" y2="562.7" stroke="#111" stroke-width="1"/>
<line x1="346.0" y1="562.7" x2="351.0" y2="562.7" stroke="#111" stroke-width="1"/>
<rect x="377.5" y="520.5" width="27.0" height="120.79999999999995" fill="#fff" stroke="#111" stroke-width="0.9"/>
<line x1="391.5" y1="520.5" x2="391.5" y2="517.6" stroke="#111" stroke-width="1"/>
<line x1="389.0" y1="517.6" x2="394.0" y2="517.6" stroke="#111" stroke-width="1"/>
<rect x="421.5" y="607.5" width="26.0" height="33.799999999999955" fill="#000" stroke="#111" stroke-width="1"/>
<line x1="434.5" y1="607.5" x2="434.5" y2="601.4" stroke="#111" stroke-width="1"/>
<line x1="432.0" y1="601.4" x2="437.0" y2="601.4" stroke="#111" stroke-width="1"/>
<rect x="463.5" y="598.5" width="26.0" height="42.799999999999955" fill="#fff" stroke="#111" stroke-width="0.9"/>
<line x1="476.5" y1="598.5" x2="476.5" y2="593.7" stroke="#111" stroke-width="1"/>
<line x1="474.0" y1="593.7" x2="479.0" y2="593.7" stroke="#111" stroke-width="1"/>
<text x="344" y="502.5" font-size="17"><tspan class="i">p</tspan>=0.002</text>
<path class="ln" d="M346.5,526 V507 H394.5 V511.5" stroke-width="1.8"/>
<text x="341" y="649.5" font-size="11" text-anchor="start" class="i">wt/wt</text>
<text x="308.5" y="660.7" font-size="10.8" text-anchor="start" class="i">Jam-A</text>
<text x="373" y="660.7" font-size="10.8" text-anchor="start" class="i">Jam-A</text>
<text x="392.8" y="651" font-size="11.6" text-anchor="start" class="i">gt/gt</text>
<text x="416" y="660.7" font-size="10.8" text-anchor="start" class="i">Jam-A</text>
<text x="437" y="651" font-size="11" text-anchor="start" class="i">wt/wt</text>
<text x="463.5" y="660.7" font-size="10.8" text-anchor="start" class="i">Jam-A</text>
<text x="483.8" y="651" font-size="11.6" text-anchor="start" class="i">gt/gt</text>
<line x1="338" y1="663" x2="410.7" y2="663" stroke="#111" stroke-width="1.5"/>
<line x1="430.7" y1="663" x2="515" y2="663" stroke="#111" stroke-width="1.5"/>
<text x="373.5" y="676.5" font-size="14.6" text-anchor="middle">DMSO</text>
<text x="475.5" y="676.5" font-size="14.6" text-anchor="middle">PP2 (20μM)</text>
</g>
</svg></body></html>
